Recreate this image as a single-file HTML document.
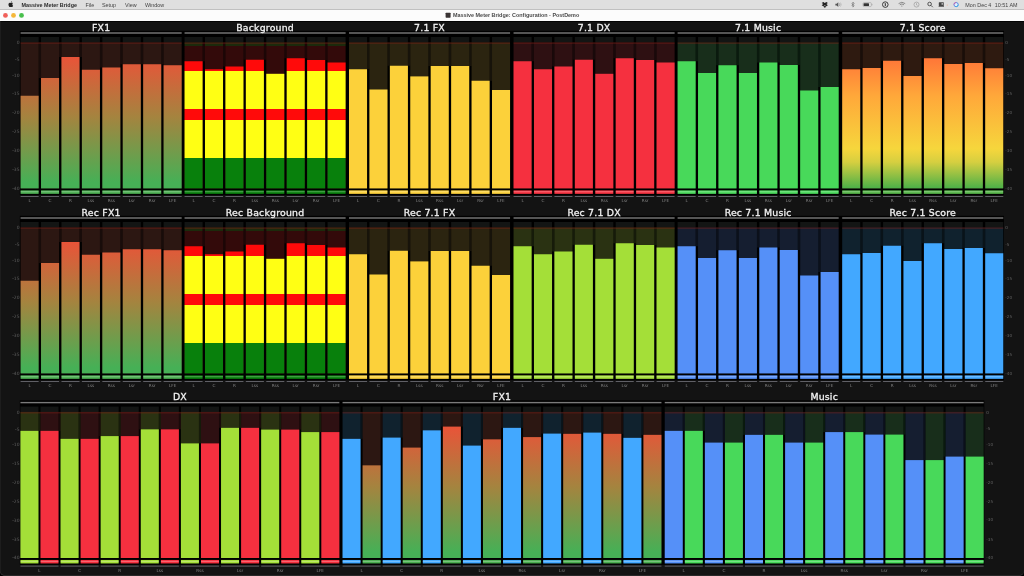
<!DOCTYPE html>
<html><head><meta charset="utf-8"><title>Massive Meter Bridge</title>
<style>
html,body{margin:0;padding:0;background:#000;}
body{width:1024px;height:576px;overflow:hidden;position:relative;font-family:"Liberation Sans",sans-serif;}
#menubar{position:absolute;left:0;top:0;width:1024px;height:9.2px;background:#dfdfdf;border-bottom:0.5px solid #c0c0c0;}
#titlebar{position:absolute;left:0;top:9.7px;width:1024px;height:11.5px;background:#fcfcfc;}
#content{position:absolute;left:0;top:21.2px;width:1024px;height:554.8px;background:#131313;border-radius:0 0 5px 5px;box-shadow:inset 0 -0.8px 0 #303030, inset 0.6px 0 0 #262626, inset 0 0.8px 0 #000;}
svg text{font-family:"DejaVu Sans","Liberation Sans",sans-serif;}
.t{font-size:9.35px;letter-spacing:0.2px;fill:#f2f2f2;stroke:#f2f2f2;stroke-width:0.3px;}
.c{font-size:4.2px;fill:#858585;}
.s{font-size:4.5px;fill:#5e5e5e;}
.sr{font-size:4.1px;fill:#626262;}
svg text.m{font-family:"Liberation Sans",sans-serif;font-size:5.4px;fill:#444;}
svg text.mb{font-family:"Liberation Sans",sans-serif;font-size:5.4px;font-weight:bold;fill:#2a2a2a;}
svg text.tb{font-family:"Liberation Sans",sans-serif;font-size:5.43px;font-weight:bold;fill:#4a4a4a;}
</style></head>
<body>
<div id="menubar"></div><div id="titlebar"></div><div id="content"></div>
<svg width="1024" height="576" viewBox="0 0 1024 576" style="position:absolute;left:0;top:0"><defs><linearGradient id="gFx1_0" gradientUnits="userSpaceOnUse" x1="0" y1="52.5" x2="0" y2="182.4"><stop offset="0" stop-color="#ee5038"/><stop offset="0.5" stop-color="#a4843f"/><stop offset="1" stop-color="#46b056"/></linearGradient><linearGradient id="gScore_0" gradientUnits="userSpaceOnUse" x1="0" y1="56.5" x2="0" y2="188.4"><stop offset="0" stop-color="#ff7438"/><stop offset="0.30" stop-color="#ffa83a"/><stop offset="0.70" stop-color="#f6d63c"/><stop offset="0.80" stop-color="#d6cf40"/><stop offset="1" stop-color="#4cb048"/></linearGradient><linearGradient id="gBg_0" gradientUnits="userSpaceOnUse" x1="0" y1="42.5" x2="0" y2="188.4"><stop offset="0.0000" stop-color="#ff0a0a"/><stop offset="0.1936" stop-color="#ff0a0a"/><stop offset="0.1936" stop-color="#ffff14"/><stop offset="0.4541" stop-color="#ffff14"/><stop offset="0.4541" stop-color="#ff0a0a"/><stop offset="0.5326" stop-color="#ff0a0a"/><stop offset="0.5326" stop-color="#ffff14"/><stop offset="0.7930" stop-color="#ffff14"/><stop offset="0.7930" stop-color="#08800c"/><stop offset="1.0000" stop-color="#08800c"/></linearGradient><linearGradient id="gBgDim_0" gradientUnits="userSpaceOnUse" x1="0" y1="42.5" x2="0" y2="188.4"><stop offset="0.0000" stop-color="#1c2a0c"/><stop offset="0.0240" stop-color="#1c2a0c"/><stop offset="0.0240" stop-color="#330a0a"/><stop offset="1.0000" stop-color="#330a0a"/></linearGradient><linearGradient id="gFx1_1" gradientUnits="userSpaceOnUse" x1="0" y1="237.5" x2="0" y2="367.4"><stop offset="0" stop-color="#ee5038"/><stop offset="0.5" stop-color="#a4843f"/><stop offset="1" stop-color="#46b056"/></linearGradient><linearGradient id="gScore_1" gradientUnits="userSpaceOnUse" x1="0" y1="241.5" x2="0" y2="373.4"><stop offset="0" stop-color="#ff7438"/><stop offset="0.30" stop-color="#ffa83a"/><stop offset="0.70" stop-color="#f6d63c"/><stop offset="0.80" stop-color="#d6cf40"/><stop offset="1" stop-color="#4cb048"/></linearGradient><linearGradient id="gBg_1" gradientUnits="userSpaceOnUse" x1="0" y1="227.5" x2="0" y2="373.4"><stop offset="0.0000" stop-color="#ff0a0a"/><stop offset="0.1936" stop-color="#ff0a0a"/><stop offset="0.1936" stop-color="#ffff14"/><stop offset="0.4541" stop-color="#ffff14"/><stop offset="0.4541" stop-color="#ff0a0a"/><stop offset="0.5326" stop-color="#ff0a0a"/><stop offset="0.5326" stop-color="#ffff14"/><stop offset="0.7930" stop-color="#ffff14"/><stop offset="0.7930" stop-color="#08800c"/><stop offset="1.0000" stop-color="#08800c"/></linearGradient><linearGradient id="gBgDim_1" gradientUnits="userSpaceOnUse" x1="0" y1="227.5" x2="0" y2="373.4"><stop offset="0.0000" stop-color="#1c2a0c"/><stop offset="0.0240" stop-color="#1c2a0c"/><stop offset="0.0240" stop-color="#330a0a"/><stop offset="1.0000" stop-color="#330a0a"/></linearGradient><linearGradient id="gFx1_2" gradientUnits="userSpaceOnUse" x1="0" y1="422.1" x2="0" y2="552.0"><stop offset="0" stop-color="#ee5038"/><stop offset="0.5" stop-color="#a4843f"/><stop offset="1" stop-color="#46b056"/></linearGradient><linearGradient id="gScore_2" gradientUnits="userSpaceOnUse" x1="0" y1="426.1" x2="0" y2="558.0"><stop offset="0" stop-color="#ff7438"/><stop offset="0.30" stop-color="#ffa83a"/><stop offset="0.70" stop-color="#f6d63c"/><stop offset="0.80" stop-color="#d6cf40"/><stop offset="1" stop-color="#4cb048"/></linearGradient><linearGradient id="gBg_2" gradientUnits="userSpaceOnUse" x1="0" y1="412.1" x2="0" y2="558.0"><stop offset="0.0000" stop-color="#ff0a0a"/><stop offset="0.1936" stop-color="#ff0a0a"/><stop offset="0.1936" stop-color="#ffff14"/><stop offset="0.4541" stop-color="#ffff14"/><stop offset="0.4541" stop-color="#ff0a0a"/><stop offset="0.5326" stop-color="#ff0a0a"/><stop offset="0.5326" stop-color="#ffff14"/><stop offset="0.7930" stop-color="#ffff14"/><stop offset="0.7930" stop-color="#08800c"/><stop offset="1.0000" stop-color="#08800c"/></linearGradient><linearGradient id="gBgDim_2" gradientUnits="userSpaceOnUse" x1="0" y1="412.1" x2="0" y2="558.0"><stop offset="0.0000" stop-color="#1c2a0c"/><stop offset="0.0240" stop-color="#1c2a0c"/><stop offset="0.0240" stop-color="#330a0a"/><stop offset="1.0000" stop-color="#330a0a"/></linearGradient></defs><rect x="19.80" y="30.80" width="984.20" height="164.40" fill="#000"/>
<rect x="20.60" y="32.30" width="161.06" height="1.40" fill="#7a7a7a"/>
<rect x="38.45" y="42.50" width="2.78" height="35.50" fill="#180c0a"/>
<rect x="58.88" y="42.50" width="2.78" height="14.50" fill="#180c0a"/>
<rect x="79.31" y="42.50" width="2.78" height="14.50" fill="#180c0a"/>
<rect x="99.74" y="42.50" width="2.78" height="25.00" fill="#180c0a"/>
<rect x="120.17" y="42.50" width="2.78" height="21.75" fill="#180c0a"/>
<rect x="140.60" y="42.50" width="2.78" height="21.75" fill="#180c0a"/>
<rect x="161.03" y="42.50" width="2.78" height="21.75" fill="#180c0a"/>
<rect x="20.60" y="37.00" width="18.05" height="5.50" fill="#131514"/>
<rect x="20.60" y="42.50" width="18.05" height="145.90" fill="#2c1712"/>
<rect x="20.60" y="95.75" width="18.05" height="92.65" fill="url(#gFx1_0)"/>
<rect x="20.60" y="190.35" width="18.05" height="3.50" fill="#4aae50"/>
<rect x="20.60" y="191.30" width="18.05" height="0.90" fill="#fff" opacity="0.32"/>
<rect x="20.60" y="196.00" width="18.05" height="1.00" fill="#606066"/>
<rect x="41.03" y="37.00" width="18.05" height="5.50" fill="#131514"/>
<rect x="41.03" y="42.50" width="18.05" height="145.90" fill="#2c1712"/>
<rect x="41.03" y="78.00" width="18.05" height="110.40" fill="url(#gFx1_0)"/>
<rect x="41.03" y="190.35" width="18.05" height="3.50" fill="#4aae50"/>
<rect x="41.03" y="191.30" width="18.05" height="0.90" fill="#fff" opacity="0.32"/>
<rect x="41.03" y="196.00" width="18.05" height="1.00" fill="#606066"/>
<rect x="61.46" y="37.00" width="18.05" height="5.50" fill="#131514"/>
<rect x="61.46" y="42.50" width="18.05" height="145.90" fill="#2c1712"/>
<rect x="61.46" y="57.00" width="18.05" height="131.40" fill="url(#gFx1_0)"/>
<rect x="61.46" y="190.35" width="18.05" height="3.50" fill="#4aae50"/>
<rect x="61.46" y="191.30" width="18.05" height="0.90" fill="#fff" opacity="0.32"/>
<rect x="61.46" y="196.00" width="18.05" height="1.00" fill="#606066"/>
<rect x="81.89" y="37.00" width="18.05" height="5.50" fill="#131514"/>
<rect x="81.89" y="42.50" width="18.05" height="145.90" fill="#2c1712"/>
<rect x="81.89" y="69.75" width="18.05" height="118.65" fill="url(#gFx1_0)"/>
<rect x="81.89" y="190.35" width="18.05" height="3.50" fill="#4aae50"/>
<rect x="81.89" y="191.30" width="18.05" height="0.90" fill="#fff" opacity="0.32"/>
<rect x="81.89" y="196.00" width="18.05" height="1.00" fill="#606066"/>
<rect x="102.32" y="37.00" width="18.05" height="5.50" fill="#131514"/>
<rect x="102.32" y="42.50" width="18.05" height="145.90" fill="#2c1712"/>
<rect x="102.32" y="67.50" width="18.05" height="120.90" fill="url(#gFx1_0)"/>
<rect x="102.32" y="190.35" width="18.05" height="3.50" fill="#4aae50"/>
<rect x="102.32" y="191.30" width="18.05" height="0.90" fill="#fff" opacity="0.32"/>
<rect x="102.32" y="196.00" width="18.05" height="1.00" fill="#606066"/>
<rect x="122.75" y="37.00" width="18.05" height="5.50" fill="#131514"/>
<rect x="122.75" y="42.50" width="18.05" height="145.90" fill="#2c1712"/>
<rect x="122.75" y="64.25" width="18.05" height="124.15" fill="url(#gFx1_0)"/>
<rect x="122.75" y="190.35" width="18.05" height="3.50" fill="#4aae50"/>
<rect x="122.75" y="191.30" width="18.05" height="0.90" fill="#fff" opacity="0.32"/>
<rect x="122.75" y="196.00" width="18.05" height="1.00" fill="#606066"/>
<rect x="143.18" y="37.00" width="18.05" height="5.50" fill="#131514"/>
<rect x="143.18" y="42.50" width="18.05" height="145.90" fill="#2c1712"/>
<rect x="143.18" y="64.25" width="18.05" height="124.15" fill="url(#gFx1_0)"/>
<rect x="143.18" y="190.35" width="18.05" height="3.50" fill="#4aae50"/>
<rect x="143.18" y="191.30" width="18.05" height="0.90" fill="#fff" opacity="0.32"/>
<rect x="143.18" y="196.00" width="18.05" height="1.00" fill="#606066"/>
<rect x="163.61" y="37.00" width="18.05" height="5.50" fill="#131514"/>
<rect x="163.61" y="42.50" width="18.05" height="145.90" fill="#2c1712"/>
<rect x="163.61" y="65.25" width="18.05" height="123.15" fill="url(#gFx1_0)"/>
<rect x="163.61" y="190.35" width="18.05" height="3.50" fill="#4aae50"/>
<rect x="163.61" y="191.30" width="18.05" height="0.90" fill="#fff" opacity="0.32"/>
<rect x="163.61" y="196.00" width="18.05" height="1.00" fill="#606066"/>
<rect x="20.60" y="42.30" width="161.06" height="1.60" fill="#8a2418" opacity="0.36"/>
<rect x="184.55" y="32.30" width="161.06" height="1.40" fill="#7a7a7a"/>
<rect x="202.40" y="42.50" width="2.78" height="18.75" fill="#1c0606"/>
<rect x="222.83" y="42.50" width="2.78" height="24.00" fill="#1c0606"/>
<rect x="243.26" y="42.50" width="2.78" height="17.25" fill="#1c0606"/>
<rect x="263.69" y="42.50" width="2.78" height="17.25" fill="#1c0606"/>
<rect x="284.12" y="42.50" width="2.78" height="15.75" fill="#1c0606"/>
<rect x="304.55" y="42.50" width="2.78" height="15.75" fill="#1c0606"/>
<rect x="324.98" y="42.50" width="2.78" height="17.50" fill="#1c0606"/>
<rect x="184.55" y="37.00" width="18.05" height="5.50" fill="#131514"/>
<rect x="184.55" y="42.50" width="18.05" height="145.90" fill="url(#gBgDim_0)"/>
<rect x="184.55" y="61.25" width="18.05" height="127.15" fill="url(#gBg_0)"/>
<rect x="184.55" y="190.35" width="18.05" height="3.50" fill="#08800c"/>
<rect x="184.55" y="191.30" width="18.05" height="0.90" fill="#fff" opacity="0.32"/>
<rect x="184.55" y="196.00" width="18.05" height="1.00" fill="#606066"/>
<rect x="204.98" y="37.00" width="18.05" height="5.50" fill="#131514"/>
<rect x="204.98" y="42.50" width="18.05" height="145.90" fill="url(#gBgDim_0)"/>
<rect x="204.98" y="69.25" width="18.05" height="119.15" fill="url(#gBg_0)"/>
<rect x="204.98" y="190.35" width="18.05" height="3.50" fill="#08800c"/>
<rect x="204.98" y="191.30" width="18.05" height="0.90" fill="#fff" opacity="0.32"/>
<rect x="204.98" y="196.00" width="18.05" height="1.00" fill="#606066"/>
<rect x="225.41" y="37.00" width="18.05" height="5.50" fill="#131514"/>
<rect x="225.41" y="42.50" width="18.05" height="145.90" fill="url(#gBgDim_0)"/>
<rect x="225.41" y="66.50" width="18.05" height="121.90" fill="url(#gBg_0)"/>
<rect x="225.41" y="190.35" width="18.05" height="3.50" fill="#08800c"/>
<rect x="225.41" y="191.30" width="18.05" height="0.90" fill="#fff" opacity="0.32"/>
<rect x="225.41" y="196.00" width="18.05" height="1.00" fill="#606066"/>
<rect x="245.84" y="37.00" width="18.05" height="5.50" fill="#131514"/>
<rect x="245.84" y="42.50" width="18.05" height="145.90" fill="url(#gBgDim_0)"/>
<rect x="245.84" y="59.75" width="18.05" height="128.65" fill="url(#gBg_0)"/>
<rect x="245.84" y="190.35" width="18.05" height="3.50" fill="#08800c"/>
<rect x="245.84" y="191.30" width="18.05" height="0.90" fill="#fff" opacity="0.32"/>
<rect x="245.84" y="196.00" width="18.05" height="1.00" fill="#606066"/>
<rect x="266.27" y="37.00" width="18.05" height="5.50" fill="#131514"/>
<rect x="266.27" y="42.50" width="18.05" height="145.90" fill="url(#gBgDim_0)"/>
<rect x="266.27" y="73.80" width="18.05" height="114.60" fill="url(#gBg_0)"/>
<rect x="266.27" y="190.35" width="18.05" height="3.50" fill="#08800c"/>
<rect x="266.27" y="191.30" width="18.05" height="0.90" fill="#fff" opacity="0.32"/>
<rect x="266.27" y="196.00" width="18.05" height="1.00" fill="#606066"/>
<rect x="286.70" y="37.00" width="18.05" height="5.50" fill="#131514"/>
<rect x="286.70" y="42.50" width="18.05" height="145.90" fill="url(#gBgDim_0)"/>
<rect x="286.70" y="58.25" width="18.05" height="130.15" fill="url(#gBg_0)"/>
<rect x="286.70" y="190.35" width="18.05" height="3.50" fill="#08800c"/>
<rect x="286.70" y="191.30" width="18.05" height="0.90" fill="#fff" opacity="0.32"/>
<rect x="286.70" y="196.00" width="18.05" height="1.00" fill="#606066"/>
<rect x="307.13" y="37.00" width="18.05" height="5.50" fill="#131514"/>
<rect x="307.13" y="42.50" width="18.05" height="145.90" fill="url(#gBgDim_0)"/>
<rect x="307.13" y="60.00" width="18.05" height="128.40" fill="url(#gBg_0)"/>
<rect x="307.13" y="190.35" width="18.05" height="3.50" fill="#08800c"/>
<rect x="307.13" y="191.30" width="18.05" height="0.90" fill="#fff" opacity="0.32"/>
<rect x="307.13" y="196.00" width="18.05" height="1.00" fill="#606066"/>
<rect x="327.56" y="37.00" width="18.05" height="5.50" fill="#131514"/>
<rect x="327.56" y="42.50" width="18.05" height="145.90" fill="url(#gBgDim_0)"/>
<rect x="327.56" y="62.50" width="18.05" height="125.90" fill="url(#gBg_0)"/>
<rect x="327.56" y="190.35" width="18.05" height="3.50" fill="#08800c"/>
<rect x="327.56" y="191.30" width="18.05" height="0.90" fill="#fff" opacity="0.32"/>
<rect x="327.56" y="196.00" width="18.05" height="1.00" fill="#606066"/>
<rect x="184.55" y="42.30" width="161.06" height="1.60" fill="#8a2418" opacity="0.36"/>
<rect x="349.00" y="32.30" width="161.06" height="1.40" fill="#7a7a7a"/>
<rect x="366.85" y="42.50" width="2.78" height="26.75" fill="#17130a"/>
<rect x="387.28" y="42.50" width="2.78" height="23.25" fill="#17130a"/>
<rect x="407.71" y="42.50" width="2.78" height="23.25" fill="#17130a"/>
<rect x="428.14" y="42.50" width="2.78" height="23.50" fill="#17130a"/>
<rect x="448.57" y="42.50" width="2.78" height="23.50" fill="#17130a"/>
<rect x="469.00" y="42.50" width="2.78" height="23.50" fill="#17130a"/>
<rect x="489.43" y="42.50" width="2.78" height="38.25" fill="#17130a"/>
<rect x="349.00" y="37.00" width="18.05" height="5.50" fill="#131514"/>
<rect x="349.00" y="42.50" width="18.05" height="145.90" fill="#2b2410"/>
<rect x="349.00" y="69.25" width="18.05" height="119.15" fill="#fcd13a"/>
<rect x="349.00" y="190.35" width="18.05" height="3.50" fill="#fcd13a"/>
<rect x="349.00" y="191.30" width="18.05" height="0.90" fill="#fff" opacity="0.32"/>
<rect x="349.00" y="196.00" width="18.05" height="1.00" fill="#606066"/>
<rect x="369.43" y="37.00" width="18.05" height="5.50" fill="#131514"/>
<rect x="369.43" y="42.50" width="18.05" height="145.90" fill="#2b2410"/>
<rect x="369.43" y="89.50" width="18.05" height="98.90" fill="#fcd13a"/>
<rect x="369.43" y="190.35" width="18.05" height="3.50" fill="#fcd13a"/>
<rect x="369.43" y="191.30" width="18.05" height="0.90" fill="#fff" opacity="0.32"/>
<rect x="369.43" y="196.00" width="18.05" height="1.00" fill="#606066"/>
<rect x="389.86" y="37.00" width="18.05" height="5.50" fill="#131514"/>
<rect x="389.86" y="42.50" width="18.05" height="145.90" fill="#2b2410"/>
<rect x="389.86" y="65.75" width="18.05" height="122.65" fill="#fcd13a"/>
<rect x="389.86" y="190.35" width="18.05" height="3.50" fill="#fcd13a"/>
<rect x="389.86" y="191.30" width="18.05" height="0.90" fill="#fff" opacity="0.32"/>
<rect x="389.86" y="196.00" width="18.05" height="1.00" fill="#606066"/>
<rect x="410.29" y="37.00" width="18.05" height="5.50" fill="#131514"/>
<rect x="410.29" y="42.50" width="18.05" height="145.90" fill="#2b2410"/>
<rect x="410.29" y="76.40" width="18.05" height="112.00" fill="#fcd13a"/>
<rect x="410.29" y="190.35" width="18.05" height="3.50" fill="#fcd13a"/>
<rect x="410.29" y="191.30" width="18.05" height="0.90" fill="#fff" opacity="0.32"/>
<rect x="410.29" y="196.00" width="18.05" height="1.00" fill="#606066"/>
<rect x="430.72" y="37.00" width="18.05" height="5.50" fill="#131514"/>
<rect x="430.72" y="42.50" width="18.05" height="145.90" fill="#2b2410"/>
<rect x="430.72" y="66.00" width="18.05" height="122.40" fill="#fcd13a"/>
<rect x="430.72" y="190.35" width="18.05" height="3.50" fill="#fcd13a"/>
<rect x="430.72" y="191.30" width="18.05" height="0.90" fill="#fff" opacity="0.32"/>
<rect x="430.72" y="196.00" width="18.05" height="1.00" fill="#606066"/>
<rect x="451.15" y="37.00" width="18.05" height="5.50" fill="#131514"/>
<rect x="451.15" y="42.50" width="18.05" height="145.90" fill="#2b2410"/>
<rect x="451.15" y="66.00" width="18.05" height="122.40" fill="#fcd13a"/>
<rect x="451.15" y="190.35" width="18.05" height="3.50" fill="#fcd13a"/>
<rect x="451.15" y="191.30" width="18.05" height="0.90" fill="#fff" opacity="0.32"/>
<rect x="451.15" y="196.00" width="18.05" height="1.00" fill="#606066"/>
<rect x="471.58" y="37.00" width="18.05" height="5.50" fill="#131514"/>
<rect x="471.58" y="42.50" width="18.05" height="145.90" fill="#2b2410"/>
<rect x="471.58" y="80.75" width="18.05" height="107.65" fill="#fcd13a"/>
<rect x="471.58" y="190.35" width="18.05" height="3.50" fill="#fcd13a"/>
<rect x="471.58" y="191.30" width="18.05" height="0.90" fill="#fff" opacity="0.32"/>
<rect x="471.58" y="196.00" width="18.05" height="1.00" fill="#606066"/>
<rect x="492.01" y="37.00" width="18.05" height="5.50" fill="#131514"/>
<rect x="492.01" y="42.50" width="18.05" height="145.90" fill="#2b2410"/>
<rect x="492.01" y="90.00" width="18.05" height="98.40" fill="#fcd13a"/>
<rect x="492.01" y="190.35" width="18.05" height="3.50" fill="#fcd13a"/>
<rect x="492.01" y="191.30" width="18.05" height="0.90" fill="#fff" opacity="0.32"/>
<rect x="492.01" y="196.00" width="18.05" height="1.00" fill="#606066"/>
<rect x="349.00" y="42.30" width="161.06" height="1.60" fill="#8a2418" opacity="0.36"/>
<rect x="513.55" y="32.30" width="161.06" height="1.40" fill="#7a7a7a"/>
<rect x="531.40" y="42.50" width="2.78" height="18.75" fill="#19090a"/>
<rect x="551.83" y="42.50" width="2.78" height="24.00" fill="#19090a"/>
<rect x="572.26" y="42.50" width="2.78" height="17.25" fill="#19090a"/>
<rect x="592.69" y="42.50" width="2.78" height="17.25" fill="#19090a"/>
<rect x="613.12" y="42.50" width="2.78" height="15.75" fill="#19090a"/>
<rect x="633.55" y="42.50" width="2.78" height="15.75" fill="#19090a"/>
<rect x="653.98" y="42.50" width="2.78" height="17.50" fill="#19090a"/>
<rect x="513.55" y="37.00" width="18.05" height="5.50" fill="#131514"/>
<rect x="513.55" y="42.50" width="18.05" height="145.90" fill="#2e1012"/>
<rect x="513.55" y="61.25" width="18.05" height="127.15" fill="#f5303f"/>
<rect x="513.55" y="190.35" width="18.05" height="3.50" fill="#f5303f"/>
<rect x="513.55" y="191.30" width="18.05" height="0.90" fill="#fff" opacity="0.32"/>
<rect x="513.55" y="196.00" width="18.05" height="1.00" fill="#606066"/>
<rect x="533.98" y="37.00" width="18.05" height="5.50" fill="#131514"/>
<rect x="533.98" y="42.50" width="18.05" height="145.90" fill="#2e1012"/>
<rect x="533.98" y="69.25" width="18.05" height="119.15" fill="#f5303f"/>
<rect x="533.98" y="190.35" width="18.05" height="3.50" fill="#f5303f"/>
<rect x="533.98" y="191.30" width="18.05" height="0.90" fill="#fff" opacity="0.32"/>
<rect x="533.98" y="196.00" width="18.05" height="1.00" fill="#606066"/>
<rect x="554.41" y="37.00" width="18.05" height="5.50" fill="#131514"/>
<rect x="554.41" y="42.50" width="18.05" height="145.90" fill="#2e1012"/>
<rect x="554.41" y="66.50" width="18.05" height="121.90" fill="#f5303f"/>
<rect x="554.41" y="190.35" width="18.05" height="3.50" fill="#f5303f"/>
<rect x="554.41" y="191.30" width="18.05" height="0.90" fill="#fff" opacity="0.32"/>
<rect x="554.41" y="196.00" width="18.05" height="1.00" fill="#606066"/>
<rect x="574.84" y="37.00" width="18.05" height="5.50" fill="#131514"/>
<rect x="574.84" y="42.50" width="18.05" height="145.90" fill="#2e1012"/>
<rect x="574.84" y="59.75" width="18.05" height="128.65" fill="#f5303f"/>
<rect x="574.84" y="190.35" width="18.05" height="3.50" fill="#f5303f"/>
<rect x="574.84" y="191.30" width="18.05" height="0.90" fill="#fff" opacity="0.32"/>
<rect x="574.84" y="196.00" width="18.05" height="1.00" fill="#606066"/>
<rect x="595.27" y="37.00" width="18.05" height="5.50" fill="#131514"/>
<rect x="595.27" y="42.50" width="18.05" height="145.90" fill="#2e1012"/>
<rect x="595.27" y="73.80" width="18.05" height="114.60" fill="#f5303f"/>
<rect x="595.27" y="190.35" width="18.05" height="3.50" fill="#f5303f"/>
<rect x="595.27" y="191.30" width="18.05" height="0.90" fill="#fff" opacity="0.32"/>
<rect x="595.27" y="196.00" width="18.05" height="1.00" fill="#606066"/>
<rect x="615.70" y="37.00" width="18.05" height="5.50" fill="#131514"/>
<rect x="615.70" y="42.50" width="18.05" height="145.90" fill="#2e1012"/>
<rect x="615.70" y="58.25" width="18.05" height="130.15" fill="#f5303f"/>
<rect x="615.70" y="190.35" width="18.05" height="3.50" fill="#f5303f"/>
<rect x="615.70" y="191.30" width="18.05" height="0.90" fill="#fff" opacity="0.32"/>
<rect x="615.70" y="196.00" width="18.05" height="1.00" fill="#606066"/>
<rect x="636.13" y="37.00" width="18.05" height="5.50" fill="#131514"/>
<rect x="636.13" y="42.50" width="18.05" height="145.90" fill="#2e1012"/>
<rect x="636.13" y="60.00" width="18.05" height="128.40" fill="#f5303f"/>
<rect x="636.13" y="190.35" width="18.05" height="3.50" fill="#f5303f"/>
<rect x="636.13" y="191.30" width="18.05" height="0.90" fill="#fff" opacity="0.32"/>
<rect x="636.13" y="196.00" width="18.05" height="1.00" fill="#606066"/>
<rect x="656.56" y="37.00" width="18.05" height="5.50" fill="#131514"/>
<rect x="656.56" y="42.50" width="18.05" height="145.90" fill="#2e1012"/>
<rect x="656.56" y="62.50" width="18.05" height="125.90" fill="#f5303f"/>
<rect x="656.56" y="190.35" width="18.05" height="3.50" fill="#f5303f"/>
<rect x="656.56" y="191.30" width="18.05" height="0.90" fill="#fff" opacity="0.32"/>
<rect x="656.56" y="196.00" width="18.05" height="1.00" fill="#606066"/>
<rect x="513.55" y="42.30" width="161.06" height="1.60" fill="#8a2418" opacity="0.36"/>
<rect x="677.60" y="32.30" width="161.06" height="1.40" fill="#7a7a7a"/>
<rect x="695.45" y="42.50" width="2.78" height="18.75" fill="#0a1a0e"/>
<rect x="715.88" y="42.50" width="2.78" height="22.75" fill="#0a1a0e"/>
<rect x="736.31" y="42.50" width="2.78" height="22.75" fill="#0a1a0e"/>
<rect x="756.74" y="42.50" width="2.78" height="20.00" fill="#0a1a0e"/>
<rect x="777.17" y="42.50" width="2.78" height="20.00" fill="#0a1a0e"/>
<rect x="797.60" y="42.50" width="2.78" height="22.50" fill="#0a1a0e"/>
<rect x="818.03" y="42.50" width="2.78" height="44.50" fill="#0a1a0e"/>
<rect x="677.60" y="37.00" width="18.05" height="5.50" fill="#131514"/>
<rect x="677.60" y="42.50" width="18.05" height="145.90" fill="#182e1b"/>
<rect x="677.60" y="61.25" width="18.05" height="127.15" fill="#48d95a"/>
<rect x="677.60" y="190.35" width="18.05" height="3.50" fill="#48d95a"/>
<rect x="677.60" y="191.30" width="18.05" height="0.90" fill="#fff" opacity="0.32"/>
<rect x="677.60" y="196.00" width="18.05" height="1.00" fill="#606066"/>
<rect x="698.03" y="37.00" width="18.05" height="5.50" fill="#131514"/>
<rect x="698.03" y="42.50" width="18.05" height="145.90" fill="#182e1b"/>
<rect x="698.03" y="73.00" width="18.05" height="115.40" fill="#48d95a"/>
<rect x="698.03" y="190.35" width="18.05" height="3.50" fill="#48d95a"/>
<rect x="698.03" y="191.30" width="18.05" height="0.90" fill="#fff" opacity="0.32"/>
<rect x="698.03" y="196.00" width="18.05" height="1.00" fill="#606066"/>
<rect x="718.46" y="37.00" width="18.05" height="5.50" fill="#131514"/>
<rect x="718.46" y="42.50" width="18.05" height="145.90" fill="#182e1b"/>
<rect x="718.46" y="65.25" width="18.05" height="123.15" fill="#48d95a"/>
<rect x="718.46" y="190.35" width="18.05" height="3.50" fill="#48d95a"/>
<rect x="718.46" y="191.30" width="18.05" height="0.90" fill="#fff" opacity="0.32"/>
<rect x="718.46" y="196.00" width="18.05" height="1.00" fill="#606066"/>
<rect x="738.89" y="37.00" width="18.05" height="5.50" fill="#131514"/>
<rect x="738.89" y="42.50" width="18.05" height="145.90" fill="#182e1b"/>
<rect x="738.89" y="73.00" width="18.05" height="115.40" fill="#48d95a"/>
<rect x="738.89" y="190.35" width="18.05" height="3.50" fill="#48d95a"/>
<rect x="738.89" y="191.30" width="18.05" height="0.90" fill="#fff" opacity="0.32"/>
<rect x="738.89" y="196.00" width="18.05" height="1.00" fill="#606066"/>
<rect x="759.32" y="37.00" width="18.05" height="5.50" fill="#131514"/>
<rect x="759.32" y="42.50" width="18.05" height="145.90" fill="#182e1b"/>
<rect x="759.32" y="62.50" width="18.05" height="125.90" fill="#48d95a"/>
<rect x="759.32" y="190.35" width="18.05" height="3.50" fill="#48d95a"/>
<rect x="759.32" y="191.30" width="18.05" height="0.90" fill="#fff" opacity="0.32"/>
<rect x="759.32" y="196.00" width="18.05" height="1.00" fill="#606066"/>
<rect x="779.75" y="37.00" width="18.05" height="5.50" fill="#131514"/>
<rect x="779.75" y="42.50" width="18.05" height="145.90" fill="#182e1b"/>
<rect x="779.75" y="65.00" width="18.05" height="123.40" fill="#48d95a"/>
<rect x="779.75" y="190.35" width="18.05" height="3.50" fill="#48d95a"/>
<rect x="779.75" y="191.30" width="18.05" height="0.90" fill="#fff" opacity="0.32"/>
<rect x="779.75" y="196.00" width="18.05" height="1.00" fill="#606066"/>
<rect x="800.18" y="37.00" width="18.05" height="5.50" fill="#131514"/>
<rect x="800.18" y="42.50" width="18.05" height="145.90" fill="#182e1b"/>
<rect x="800.18" y="90.50" width="18.05" height="97.90" fill="#48d95a"/>
<rect x="800.18" y="190.35" width="18.05" height="3.50" fill="#48d95a"/>
<rect x="800.18" y="191.30" width="18.05" height="0.90" fill="#fff" opacity="0.32"/>
<rect x="800.18" y="196.00" width="18.05" height="1.00" fill="#606066"/>
<rect x="820.61" y="37.00" width="18.05" height="5.50" fill="#131514"/>
<rect x="820.61" y="42.50" width="18.05" height="145.90" fill="#182e1b"/>
<rect x="820.61" y="87.00" width="18.05" height="101.40" fill="#48d95a"/>
<rect x="820.61" y="190.35" width="18.05" height="3.50" fill="#48d95a"/>
<rect x="820.61" y="191.30" width="18.05" height="0.90" fill="#fff" opacity="0.32"/>
<rect x="820.61" y="196.00" width="18.05" height="1.00" fill="#606066"/>
<rect x="677.60" y="42.30" width="161.06" height="1.60" fill="#8a2418" opacity="0.36"/>
<rect x="842.20" y="32.30" width="161.06" height="1.40" fill="#7a7a7a"/>
<rect x="860.05" y="42.50" width="2.78" height="25.50" fill="#190e09"/>
<rect x="880.48" y="42.50" width="2.78" height="18.25" fill="#190e09"/>
<rect x="900.91" y="42.50" width="2.78" height="18.25" fill="#190e09"/>
<rect x="921.34" y="42.50" width="2.78" height="15.75" fill="#190e09"/>
<rect x="941.77" y="42.50" width="2.78" height="15.75" fill="#190e09"/>
<rect x="962.20" y="42.50" width="2.78" height="20.50" fill="#190e09"/>
<rect x="982.63" y="42.50" width="2.78" height="20.50" fill="#190e09"/>
<rect x="842.20" y="37.00" width="18.05" height="5.50" fill="#131514"/>
<rect x="842.20" y="42.50" width="18.05" height="145.90" fill="#2e1a10"/>
<rect x="842.20" y="69.25" width="18.05" height="119.15" fill="url(#gScore_0)"/>
<rect x="842.20" y="190.35" width="18.05" height="3.50" fill="#55b548"/>
<rect x="842.20" y="191.30" width="18.05" height="0.90" fill="#fff" opacity="0.32"/>
<rect x="842.20" y="196.00" width="18.05" height="1.00" fill="#606066"/>
<rect x="862.63" y="37.00" width="18.05" height="5.50" fill="#131514"/>
<rect x="862.63" y="42.50" width="18.05" height="145.90" fill="#2e1a10"/>
<rect x="862.63" y="68.00" width="18.05" height="120.40" fill="url(#gScore_0)"/>
<rect x="862.63" y="190.35" width="18.05" height="3.50" fill="#55b548"/>
<rect x="862.63" y="191.30" width="18.05" height="0.90" fill="#fff" opacity="0.32"/>
<rect x="862.63" y="196.00" width="18.05" height="1.00" fill="#606066"/>
<rect x="883.06" y="37.00" width="18.05" height="5.50" fill="#131514"/>
<rect x="883.06" y="42.50" width="18.05" height="145.90" fill="#2e1a10"/>
<rect x="883.06" y="60.75" width="18.05" height="127.65" fill="url(#gScore_0)"/>
<rect x="883.06" y="190.35" width="18.05" height="3.50" fill="#55b548"/>
<rect x="883.06" y="191.30" width="18.05" height="0.90" fill="#fff" opacity="0.32"/>
<rect x="883.06" y="196.00" width="18.05" height="1.00" fill="#606066"/>
<rect x="903.49" y="37.00" width="18.05" height="5.50" fill="#131514"/>
<rect x="903.49" y="42.50" width="18.05" height="145.90" fill="#2e1a10"/>
<rect x="903.49" y="76.00" width="18.05" height="112.40" fill="url(#gScore_0)"/>
<rect x="903.49" y="190.35" width="18.05" height="3.50" fill="#55b548"/>
<rect x="903.49" y="191.30" width="18.05" height="0.90" fill="#fff" opacity="0.32"/>
<rect x="903.49" y="196.00" width="18.05" height="1.00" fill="#606066"/>
<rect x="923.92" y="37.00" width="18.05" height="5.50" fill="#131514"/>
<rect x="923.92" y="42.50" width="18.05" height="145.90" fill="#2e1a10"/>
<rect x="923.92" y="58.25" width="18.05" height="130.15" fill="url(#gScore_0)"/>
<rect x="923.92" y="190.35" width="18.05" height="3.50" fill="#55b548"/>
<rect x="923.92" y="191.30" width="18.05" height="0.90" fill="#fff" opacity="0.32"/>
<rect x="923.92" y="196.00" width="18.05" height="1.00" fill="#606066"/>
<rect x="944.35" y="37.00" width="18.05" height="5.50" fill="#131514"/>
<rect x="944.35" y="42.50" width="18.05" height="145.90" fill="#2e1a10"/>
<rect x="944.35" y="64.00" width="18.05" height="124.40" fill="url(#gScore_0)"/>
<rect x="944.35" y="190.35" width="18.05" height="3.50" fill="#55b548"/>
<rect x="944.35" y="191.30" width="18.05" height="0.90" fill="#fff" opacity="0.32"/>
<rect x="944.35" y="196.00" width="18.05" height="1.00" fill="#606066"/>
<rect x="964.78" y="37.00" width="18.05" height="5.50" fill="#131514"/>
<rect x="964.78" y="42.50" width="18.05" height="145.90" fill="#2e1a10"/>
<rect x="964.78" y="63.00" width="18.05" height="125.40" fill="url(#gScore_0)"/>
<rect x="964.78" y="190.35" width="18.05" height="3.50" fill="#55b548"/>
<rect x="964.78" y="191.30" width="18.05" height="0.90" fill="#fff" opacity="0.32"/>
<rect x="964.78" y="196.00" width="18.05" height="1.00" fill="#606066"/>
<rect x="985.21" y="37.00" width="18.05" height="5.50" fill="#131514"/>
<rect x="985.21" y="42.50" width="18.05" height="145.90" fill="#2e1a10"/>
<rect x="985.21" y="68.25" width="18.05" height="120.15" fill="url(#gScore_0)"/>
<rect x="985.21" y="190.35" width="18.05" height="3.50" fill="#55b548"/>
<rect x="985.21" y="191.30" width="18.05" height="0.90" fill="#fff" opacity="0.32"/>
<rect x="985.21" y="196.00" width="18.05" height="1.00" fill="#606066"/>
<rect x="842.20" y="42.30" width="161.06" height="1.60" fill="#8a2418" opacity="0.36"/>
<rect x="19.80" y="215.80" width="984.20" height="164.40" fill="#000"/>
<rect x="20.60" y="217.30" width="161.06" height="1.40" fill="#7a7a7a"/>
<rect x="38.45" y="227.50" width="2.78" height="35.50" fill="#180c0a"/>
<rect x="58.88" y="227.50" width="2.78" height="14.50" fill="#180c0a"/>
<rect x="79.31" y="227.50" width="2.78" height="14.50" fill="#180c0a"/>
<rect x="99.74" y="227.50" width="2.78" height="25.00" fill="#180c0a"/>
<rect x="120.17" y="227.50" width="2.78" height="21.75" fill="#180c0a"/>
<rect x="140.60" y="227.50" width="2.78" height="21.75" fill="#180c0a"/>
<rect x="161.03" y="227.50" width="2.78" height="21.75" fill="#180c0a"/>
<rect x="20.60" y="222.00" width="18.05" height="5.50" fill="#131514"/>
<rect x="20.60" y="227.50" width="18.05" height="145.90" fill="#2c1712"/>
<rect x="20.60" y="280.75" width="18.05" height="92.65" fill="url(#gFx1_1)"/>
<rect x="20.60" y="375.35" width="18.05" height="3.50" fill="#4aae50"/>
<rect x="20.60" y="376.30" width="18.05" height="0.90" fill="#fff" opacity="0.32"/>
<rect x="20.60" y="381.00" width="18.05" height="1.00" fill="#606066"/>
<rect x="41.03" y="222.00" width="18.05" height="5.50" fill="#131514"/>
<rect x="41.03" y="227.50" width="18.05" height="145.90" fill="#2c1712"/>
<rect x="41.03" y="263.00" width="18.05" height="110.40" fill="url(#gFx1_1)"/>
<rect x="41.03" y="375.35" width="18.05" height="3.50" fill="#4aae50"/>
<rect x="41.03" y="376.30" width="18.05" height="0.90" fill="#fff" opacity="0.32"/>
<rect x="41.03" y="381.00" width="18.05" height="1.00" fill="#606066"/>
<rect x="61.46" y="222.00" width="18.05" height="5.50" fill="#131514"/>
<rect x="61.46" y="227.50" width="18.05" height="145.90" fill="#2c1712"/>
<rect x="61.46" y="242.00" width="18.05" height="131.40" fill="url(#gFx1_1)"/>
<rect x="61.46" y="375.35" width="18.05" height="3.50" fill="#4aae50"/>
<rect x="61.46" y="376.30" width="18.05" height="0.90" fill="#fff" opacity="0.32"/>
<rect x="61.46" y="381.00" width="18.05" height="1.00" fill="#606066"/>
<rect x="81.89" y="222.00" width="18.05" height="5.50" fill="#131514"/>
<rect x="81.89" y="227.50" width="18.05" height="145.90" fill="#2c1712"/>
<rect x="81.89" y="254.75" width="18.05" height="118.65" fill="url(#gFx1_1)"/>
<rect x="81.89" y="375.35" width="18.05" height="3.50" fill="#4aae50"/>
<rect x="81.89" y="376.30" width="18.05" height="0.90" fill="#fff" opacity="0.32"/>
<rect x="81.89" y="381.00" width="18.05" height="1.00" fill="#606066"/>
<rect x="102.32" y="222.00" width="18.05" height="5.50" fill="#131514"/>
<rect x="102.32" y="227.50" width="18.05" height="145.90" fill="#2c1712"/>
<rect x="102.32" y="252.50" width="18.05" height="120.90" fill="url(#gFx1_1)"/>
<rect x="102.32" y="375.35" width="18.05" height="3.50" fill="#4aae50"/>
<rect x="102.32" y="376.30" width="18.05" height="0.90" fill="#fff" opacity="0.32"/>
<rect x="102.32" y="381.00" width="18.05" height="1.00" fill="#606066"/>
<rect x="122.75" y="222.00" width="18.05" height="5.50" fill="#131514"/>
<rect x="122.75" y="227.50" width="18.05" height="145.90" fill="#2c1712"/>
<rect x="122.75" y="249.25" width="18.05" height="124.15" fill="url(#gFx1_1)"/>
<rect x="122.75" y="375.35" width="18.05" height="3.50" fill="#4aae50"/>
<rect x="122.75" y="376.30" width="18.05" height="0.90" fill="#fff" opacity="0.32"/>
<rect x="122.75" y="381.00" width="18.05" height="1.00" fill="#606066"/>
<rect x="143.18" y="222.00" width="18.05" height="5.50" fill="#131514"/>
<rect x="143.18" y="227.50" width="18.05" height="145.90" fill="#2c1712"/>
<rect x="143.18" y="249.25" width="18.05" height="124.15" fill="url(#gFx1_1)"/>
<rect x="143.18" y="375.35" width="18.05" height="3.50" fill="#4aae50"/>
<rect x="143.18" y="376.30" width="18.05" height="0.90" fill="#fff" opacity="0.32"/>
<rect x="143.18" y="381.00" width="18.05" height="1.00" fill="#606066"/>
<rect x="163.61" y="222.00" width="18.05" height="5.50" fill="#131514"/>
<rect x="163.61" y="227.50" width="18.05" height="145.90" fill="#2c1712"/>
<rect x="163.61" y="250.25" width="18.05" height="123.15" fill="url(#gFx1_1)"/>
<rect x="163.61" y="375.35" width="18.05" height="3.50" fill="#4aae50"/>
<rect x="163.61" y="376.30" width="18.05" height="0.90" fill="#fff" opacity="0.32"/>
<rect x="163.61" y="381.00" width="18.05" height="1.00" fill="#606066"/>
<rect x="20.60" y="227.30" width="161.06" height="1.60" fill="#8a2418" opacity="0.36"/>
<rect x="184.55" y="217.30" width="161.06" height="1.40" fill="#7a7a7a"/>
<rect x="202.40" y="227.50" width="2.78" height="18.75" fill="#1c0606"/>
<rect x="222.83" y="227.50" width="2.78" height="24.00" fill="#1c0606"/>
<rect x="243.26" y="227.50" width="2.78" height="17.25" fill="#1c0606"/>
<rect x="263.69" y="227.50" width="2.78" height="17.25" fill="#1c0606"/>
<rect x="284.12" y="227.50" width="2.78" height="15.75" fill="#1c0606"/>
<rect x="304.55" y="227.50" width="2.78" height="15.75" fill="#1c0606"/>
<rect x="324.98" y="227.50" width="2.78" height="17.50" fill="#1c0606"/>
<rect x="184.55" y="222.00" width="18.05" height="5.50" fill="#131514"/>
<rect x="184.55" y="227.50" width="18.05" height="145.90" fill="url(#gBgDim_1)"/>
<rect x="184.55" y="246.25" width="18.05" height="127.15" fill="url(#gBg_1)"/>
<rect x="184.55" y="375.35" width="18.05" height="3.50" fill="#08800c"/>
<rect x="184.55" y="376.30" width="18.05" height="0.90" fill="#fff" opacity="0.32"/>
<rect x="184.55" y="381.00" width="18.05" height="1.00" fill="#606066"/>
<rect x="204.98" y="222.00" width="18.05" height="5.50" fill="#131514"/>
<rect x="204.98" y="227.50" width="18.05" height="145.90" fill="url(#gBgDim_1)"/>
<rect x="204.98" y="254.25" width="18.05" height="119.15" fill="url(#gBg_1)"/>
<rect x="204.98" y="375.35" width="18.05" height="3.50" fill="#08800c"/>
<rect x="204.98" y="376.30" width="18.05" height="0.90" fill="#fff" opacity="0.32"/>
<rect x="204.98" y="381.00" width="18.05" height="1.00" fill="#606066"/>
<rect x="225.41" y="222.00" width="18.05" height="5.50" fill="#131514"/>
<rect x="225.41" y="227.50" width="18.05" height="145.90" fill="url(#gBgDim_1)"/>
<rect x="225.41" y="251.50" width="18.05" height="121.90" fill="url(#gBg_1)"/>
<rect x="225.41" y="375.35" width="18.05" height="3.50" fill="#08800c"/>
<rect x="225.41" y="376.30" width="18.05" height="0.90" fill="#fff" opacity="0.32"/>
<rect x="225.41" y="381.00" width="18.05" height="1.00" fill="#606066"/>
<rect x="245.84" y="222.00" width="18.05" height="5.50" fill="#131514"/>
<rect x="245.84" y="227.50" width="18.05" height="145.90" fill="url(#gBgDim_1)"/>
<rect x="245.84" y="244.75" width="18.05" height="128.65" fill="url(#gBg_1)"/>
<rect x="245.84" y="375.35" width="18.05" height="3.50" fill="#08800c"/>
<rect x="245.84" y="376.30" width="18.05" height="0.90" fill="#fff" opacity="0.32"/>
<rect x="245.84" y="381.00" width="18.05" height="1.00" fill="#606066"/>
<rect x="266.27" y="222.00" width="18.05" height="5.50" fill="#131514"/>
<rect x="266.27" y="227.50" width="18.05" height="145.90" fill="url(#gBgDim_1)"/>
<rect x="266.27" y="258.80" width="18.05" height="114.60" fill="url(#gBg_1)"/>
<rect x="266.27" y="375.35" width="18.05" height="3.50" fill="#08800c"/>
<rect x="266.27" y="376.30" width="18.05" height="0.90" fill="#fff" opacity="0.32"/>
<rect x="266.27" y="381.00" width="18.05" height="1.00" fill="#606066"/>
<rect x="286.70" y="222.00" width="18.05" height="5.50" fill="#131514"/>
<rect x="286.70" y="227.50" width="18.05" height="145.90" fill="url(#gBgDim_1)"/>
<rect x="286.70" y="243.25" width="18.05" height="130.15" fill="url(#gBg_1)"/>
<rect x="286.70" y="375.35" width="18.05" height="3.50" fill="#08800c"/>
<rect x="286.70" y="376.30" width="18.05" height="0.90" fill="#fff" opacity="0.32"/>
<rect x="286.70" y="381.00" width="18.05" height="1.00" fill="#606066"/>
<rect x="307.13" y="222.00" width="18.05" height="5.50" fill="#131514"/>
<rect x="307.13" y="227.50" width="18.05" height="145.90" fill="url(#gBgDim_1)"/>
<rect x="307.13" y="245.00" width="18.05" height="128.40" fill="url(#gBg_1)"/>
<rect x="307.13" y="375.35" width="18.05" height="3.50" fill="#08800c"/>
<rect x="307.13" y="376.30" width="18.05" height="0.90" fill="#fff" opacity="0.32"/>
<rect x="307.13" y="381.00" width="18.05" height="1.00" fill="#606066"/>
<rect x="327.56" y="222.00" width="18.05" height="5.50" fill="#131514"/>
<rect x="327.56" y="227.50" width="18.05" height="145.90" fill="url(#gBgDim_1)"/>
<rect x="327.56" y="247.50" width="18.05" height="125.90" fill="url(#gBg_1)"/>
<rect x="327.56" y="375.35" width="18.05" height="3.50" fill="#08800c"/>
<rect x="327.56" y="376.30" width="18.05" height="0.90" fill="#fff" opacity="0.32"/>
<rect x="327.56" y="381.00" width="18.05" height="1.00" fill="#606066"/>
<rect x="184.55" y="227.30" width="161.06" height="1.60" fill="#8a2418" opacity="0.36"/>
<rect x="349.00" y="217.30" width="161.06" height="1.40" fill="#7a7a7a"/>
<rect x="366.85" y="227.50" width="2.78" height="26.75" fill="#17130a"/>
<rect x="387.28" y="227.50" width="2.78" height="23.25" fill="#17130a"/>
<rect x="407.71" y="227.50" width="2.78" height="23.25" fill="#17130a"/>
<rect x="428.14" y="227.50" width="2.78" height="23.50" fill="#17130a"/>
<rect x="448.57" y="227.50" width="2.78" height="23.50" fill="#17130a"/>
<rect x="469.00" y="227.50" width="2.78" height="23.50" fill="#17130a"/>
<rect x="489.43" y="227.50" width="2.78" height="38.25" fill="#17130a"/>
<rect x="349.00" y="222.00" width="18.05" height="5.50" fill="#131514"/>
<rect x="349.00" y="227.50" width="18.05" height="145.90" fill="#2b2410"/>
<rect x="349.00" y="254.25" width="18.05" height="119.15" fill="#fcd13a"/>
<rect x="349.00" y="375.35" width="18.05" height="3.50" fill="#fcd13a"/>
<rect x="349.00" y="376.30" width="18.05" height="0.90" fill="#fff" opacity="0.32"/>
<rect x="349.00" y="381.00" width="18.05" height="1.00" fill="#606066"/>
<rect x="369.43" y="222.00" width="18.05" height="5.50" fill="#131514"/>
<rect x="369.43" y="227.50" width="18.05" height="145.90" fill="#2b2410"/>
<rect x="369.43" y="274.50" width="18.05" height="98.90" fill="#fcd13a"/>
<rect x="369.43" y="375.35" width="18.05" height="3.50" fill="#fcd13a"/>
<rect x="369.43" y="376.30" width="18.05" height="0.90" fill="#fff" opacity="0.32"/>
<rect x="369.43" y="381.00" width="18.05" height="1.00" fill="#606066"/>
<rect x="389.86" y="222.00" width="18.05" height="5.50" fill="#131514"/>
<rect x="389.86" y="227.50" width="18.05" height="145.90" fill="#2b2410"/>
<rect x="389.86" y="250.75" width="18.05" height="122.65" fill="#fcd13a"/>
<rect x="389.86" y="375.35" width="18.05" height="3.50" fill="#fcd13a"/>
<rect x="389.86" y="376.30" width="18.05" height="0.90" fill="#fff" opacity="0.32"/>
<rect x="389.86" y="381.00" width="18.05" height="1.00" fill="#606066"/>
<rect x="410.29" y="222.00" width="18.05" height="5.50" fill="#131514"/>
<rect x="410.29" y="227.50" width="18.05" height="145.90" fill="#2b2410"/>
<rect x="410.29" y="261.40" width="18.05" height="112.00" fill="#fcd13a"/>
<rect x="410.29" y="375.35" width="18.05" height="3.50" fill="#fcd13a"/>
<rect x="410.29" y="376.30" width="18.05" height="0.90" fill="#fff" opacity="0.32"/>
<rect x="410.29" y="381.00" width="18.05" height="1.00" fill="#606066"/>
<rect x="430.72" y="222.00" width="18.05" height="5.50" fill="#131514"/>
<rect x="430.72" y="227.50" width="18.05" height="145.90" fill="#2b2410"/>
<rect x="430.72" y="251.00" width="18.05" height="122.40" fill="#fcd13a"/>
<rect x="430.72" y="375.35" width="18.05" height="3.50" fill="#fcd13a"/>
<rect x="430.72" y="376.30" width="18.05" height="0.90" fill="#fff" opacity="0.32"/>
<rect x="430.72" y="381.00" width="18.05" height="1.00" fill="#606066"/>
<rect x="451.15" y="222.00" width="18.05" height="5.50" fill="#131514"/>
<rect x="451.15" y="227.50" width="18.05" height="145.90" fill="#2b2410"/>
<rect x="451.15" y="251.00" width="18.05" height="122.40" fill="#fcd13a"/>
<rect x="451.15" y="375.35" width="18.05" height="3.50" fill="#fcd13a"/>
<rect x="451.15" y="376.30" width="18.05" height="0.90" fill="#fff" opacity="0.32"/>
<rect x="451.15" y="381.00" width="18.05" height="1.00" fill="#606066"/>
<rect x="471.58" y="222.00" width="18.05" height="5.50" fill="#131514"/>
<rect x="471.58" y="227.50" width="18.05" height="145.90" fill="#2b2410"/>
<rect x="471.58" y="265.75" width="18.05" height="107.65" fill="#fcd13a"/>
<rect x="471.58" y="375.35" width="18.05" height="3.50" fill="#fcd13a"/>
<rect x="471.58" y="376.30" width="18.05" height="0.90" fill="#fff" opacity="0.32"/>
<rect x="471.58" y="381.00" width="18.05" height="1.00" fill="#606066"/>
<rect x="492.01" y="222.00" width="18.05" height="5.50" fill="#131514"/>
<rect x="492.01" y="227.50" width="18.05" height="145.90" fill="#2b2410"/>
<rect x="492.01" y="275.00" width="18.05" height="98.40" fill="#fcd13a"/>
<rect x="492.01" y="375.35" width="18.05" height="3.50" fill="#fcd13a"/>
<rect x="492.01" y="376.30" width="18.05" height="0.90" fill="#fff" opacity="0.32"/>
<rect x="492.01" y="381.00" width="18.05" height="1.00" fill="#606066"/>
<rect x="349.00" y="227.30" width="161.06" height="1.60" fill="#8a2418" opacity="0.36"/>
<rect x="513.55" y="217.30" width="161.06" height="1.40" fill="#7a7a7a"/>
<rect x="531.40" y="227.50" width="2.78" height="18.75" fill="#161b0a"/>
<rect x="551.83" y="227.50" width="2.78" height="24.00" fill="#161b0a"/>
<rect x="572.26" y="227.50" width="2.78" height="17.25" fill="#161b0a"/>
<rect x="592.69" y="227.50" width="2.78" height="17.25" fill="#161b0a"/>
<rect x="613.12" y="227.50" width="2.78" height="15.75" fill="#161b0a"/>
<rect x="633.55" y="227.50" width="2.78" height="15.75" fill="#161b0a"/>
<rect x="653.98" y="227.50" width="2.78" height="17.50" fill="#161b0a"/>
<rect x="513.55" y="222.00" width="18.05" height="5.50" fill="#131514"/>
<rect x="513.55" y="227.50" width="18.05" height="145.90" fill="#2a3212"/>
<rect x="513.55" y="246.25" width="18.05" height="127.15" fill="#a4df38"/>
<rect x="513.55" y="375.35" width="18.05" height="3.50" fill="#a4df38"/>
<rect x="513.55" y="376.30" width="18.05" height="0.90" fill="#fff" opacity="0.32"/>
<rect x="513.55" y="381.00" width="18.05" height="1.00" fill="#606066"/>
<rect x="533.98" y="222.00" width="18.05" height="5.50" fill="#131514"/>
<rect x="533.98" y="227.50" width="18.05" height="145.90" fill="#2a3212"/>
<rect x="533.98" y="254.25" width="18.05" height="119.15" fill="#a4df38"/>
<rect x="533.98" y="375.35" width="18.05" height="3.50" fill="#a4df38"/>
<rect x="533.98" y="376.30" width="18.05" height="0.90" fill="#fff" opacity="0.32"/>
<rect x="533.98" y="381.00" width="18.05" height="1.00" fill="#606066"/>
<rect x="554.41" y="222.00" width="18.05" height="5.50" fill="#131514"/>
<rect x="554.41" y="227.50" width="18.05" height="145.90" fill="#2a3212"/>
<rect x="554.41" y="251.50" width="18.05" height="121.90" fill="#a4df38"/>
<rect x="554.41" y="375.35" width="18.05" height="3.50" fill="#a4df38"/>
<rect x="554.41" y="376.30" width="18.05" height="0.90" fill="#fff" opacity="0.32"/>
<rect x="554.41" y="381.00" width="18.05" height="1.00" fill="#606066"/>
<rect x="574.84" y="222.00" width="18.05" height="5.50" fill="#131514"/>
<rect x="574.84" y="227.50" width="18.05" height="145.90" fill="#2a3212"/>
<rect x="574.84" y="244.75" width="18.05" height="128.65" fill="#a4df38"/>
<rect x="574.84" y="375.35" width="18.05" height="3.50" fill="#a4df38"/>
<rect x="574.84" y="376.30" width="18.05" height="0.90" fill="#fff" opacity="0.32"/>
<rect x="574.84" y="381.00" width="18.05" height="1.00" fill="#606066"/>
<rect x="595.27" y="222.00" width="18.05" height="5.50" fill="#131514"/>
<rect x="595.27" y="227.50" width="18.05" height="145.90" fill="#2a3212"/>
<rect x="595.27" y="258.80" width="18.05" height="114.60" fill="#a4df38"/>
<rect x="595.27" y="375.35" width="18.05" height="3.50" fill="#a4df38"/>
<rect x="595.27" y="376.30" width="18.05" height="0.90" fill="#fff" opacity="0.32"/>
<rect x="595.27" y="381.00" width="18.05" height="1.00" fill="#606066"/>
<rect x="615.70" y="222.00" width="18.05" height="5.50" fill="#131514"/>
<rect x="615.70" y="227.50" width="18.05" height="145.90" fill="#2a3212"/>
<rect x="615.70" y="243.25" width="18.05" height="130.15" fill="#a4df38"/>
<rect x="615.70" y="375.35" width="18.05" height="3.50" fill="#a4df38"/>
<rect x="615.70" y="376.30" width="18.05" height="0.90" fill="#fff" opacity="0.32"/>
<rect x="615.70" y="381.00" width="18.05" height="1.00" fill="#606066"/>
<rect x="636.13" y="222.00" width="18.05" height="5.50" fill="#131514"/>
<rect x="636.13" y="227.50" width="18.05" height="145.90" fill="#2a3212"/>
<rect x="636.13" y="245.00" width="18.05" height="128.40" fill="#a4df38"/>
<rect x="636.13" y="375.35" width="18.05" height="3.50" fill="#a4df38"/>
<rect x="636.13" y="376.30" width="18.05" height="0.90" fill="#fff" opacity="0.32"/>
<rect x="636.13" y="381.00" width="18.05" height="1.00" fill="#606066"/>
<rect x="656.56" y="222.00" width="18.05" height="5.50" fill="#131514"/>
<rect x="656.56" y="227.50" width="18.05" height="145.90" fill="#2a3212"/>
<rect x="656.56" y="247.50" width="18.05" height="125.90" fill="#a4df38"/>
<rect x="656.56" y="375.35" width="18.05" height="3.50" fill="#a4df38"/>
<rect x="656.56" y="376.30" width="18.05" height="0.90" fill="#fff" opacity="0.32"/>
<rect x="656.56" y="381.00" width="18.05" height="1.00" fill="#606066"/>
<rect x="513.55" y="227.30" width="161.06" height="1.60" fill="#8a2418" opacity="0.36"/>
<rect x="677.60" y="217.30" width="161.06" height="1.40" fill="#7a7a7a"/>
<rect x="695.45" y="227.50" width="2.78" height="18.75" fill="#0b101a"/>
<rect x="715.88" y="227.50" width="2.78" height="22.75" fill="#0b101a"/>
<rect x="736.31" y="227.50" width="2.78" height="22.75" fill="#0b101a"/>
<rect x="756.74" y="227.50" width="2.78" height="20.00" fill="#0b101a"/>
<rect x="777.17" y="227.50" width="2.78" height="20.00" fill="#0b101a"/>
<rect x="797.60" y="227.50" width="2.78" height="22.50" fill="#0b101a"/>
<rect x="818.03" y="227.50" width="2.78" height="44.50" fill="#0b101a"/>
<rect x="677.60" y="222.00" width="18.05" height="5.50" fill="#131514"/>
<rect x="677.60" y="227.50" width="18.05" height="145.90" fill="#151e30"/>
<rect x="677.60" y="246.25" width="18.05" height="127.15" fill="#5590f8"/>
<rect x="677.60" y="375.35" width="18.05" height="3.50" fill="#5590f8"/>
<rect x="677.60" y="376.30" width="18.05" height="0.90" fill="#fff" opacity="0.32"/>
<rect x="677.60" y="381.00" width="18.05" height="1.00" fill="#606066"/>
<rect x="698.03" y="222.00" width="18.05" height="5.50" fill="#131514"/>
<rect x="698.03" y="227.50" width="18.05" height="145.90" fill="#151e30"/>
<rect x="698.03" y="258.00" width="18.05" height="115.40" fill="#5590f8"/>
<rect x="698.03" y="375.35" width="18.05" height="3.50" fill="#5590f8"/>
<rect x="698.03" y="376.30" width="18.05" height="0.90" fill="#fff" opacity="0.32"/>
<rect x="698.03" y="381.00" width="18.05" height="1.00" fill="#606066"/>
<rect x="718.46" y="222.00" width="18.05" height="5.50" fill="#131514"/>
<rect x="718.46" y="227.50" width="18.05" height="145.90" fill="#151e30"/>
<rect x="718.46" y="250.25" width="18.05" height="123.15" fill="#5590f8"/>
<rect x="718.46" y="375.35" width="18.05" height="3.50" fill="#5590f8"/>
<rect x="718.46" y="376.30" width="18.05" height="0.90" fill="#fff" opacity="0.32"/>
<rect x="718.46" y="381.00" width="18.05" height="1.00" fill="#606066"/>
<rect x="738.89" y="222.00" width="18.05" height="5.50" fill="#131514"/>
<rect x="738.89" y="227.50" width="18.05" height="145.90" fill="#151e30"/>
<rect x="738.89" y="258.00" width="18.05" height="115.40" fill="#5590f8"/>
<rect x="738.89" y="375.35" width="18.05" height="3.50" fill="#5590f8"/>
<rect x="738.89" y="376.30" width="18.05" height="0.90" fill="#fff" opacity="0.32"/>
<rect x="738.89" y="381.00" width="18.05" height="1.00" fill="#606066"/>
<rect x="759.32" y="222.00" width="18.05" height="5.50" fill="#131514"/>
<rect x="759.32" y="227.50" width="18.05" height="145.90" fill="#151e30"/>
<rect x="759.32" y="247.50" width="18.05" height="125.90" fill="#5590f8"/>
<rect x="759.32" y="375.35" width="18.05" height="3.50" fill="#5590f8"/>
<rect x="759.32" y="376.30" width="18.05" height="0.90" fill="#fff" opacity="0.32"/>
<rect x="759.32" y="381.00" width="18.05" height="1.00" fill="#606066"/>
<rect x="779.75" y="222.00" width="18.05" height="5.50" fill="#131514"/>
<rect x="779.75" y="227.50" width="18.05" height="145.90" fill="#151e30"/>
<rect x="779.75" y="250.00" width="18.05" height="123.40" fill="#5590f8"/>
<rect x="779.75" y="375.35" width="18.05" height="3.50" fill="#5590f8"/>
<rect x="779.75" y="376.30" width="18.05" height="0.90" fill="#fff" opacity="0.32"/>
<rect x="779.75" y="381.00" width="18.05" height="1.00" fill="#606066"/>
<rect x="800.18" y="222.00" width="18.05" height="5.50" fill="#131514"/>
<rect x="800.18" y="227.50" width="18.05" height="145.90" fill="#151e30"/>
<rect x="800.18" y="275.50" width="18.05" height="97.90" fill="#5590f8"/>
<rect x="800.18" y="375.35" width="18.05" height="3.50" fill="#5590f8"/>
<rect x="800.18" y="376.30" width="18.05" height="0.90" fill="#fff" opacity="0.32"/>
<rect x="800.18" y="381.00" width="18.05" height="1.00" fill="#606066"/>
<rect x="820.61" y="222.00" width="18.05" height="5.50" fill="#131514"/>
<rect x="820.61" y="227.50" width="18.05" height="145.90" fill="#151e30"/>
<rect x="820.61" y="272.00" width="18.05" height="101.40" fill="#5590f8"/>
<rect x="820.61" y="375.35" width="18.05" height="3.50" fill="#5590f8"/>
<rect x="820.61" y="376.30" width="18.05" height="0.90" fill="#fff" opacity="0.32"/>
<rect x="820.61" y="381.00" width="18.05" height="1.00" fill="#606066"/>
<rect x="677.60" y="227.30" width="161.06" height="1.60" fill="#8a2418" opacity="0.36"/>
<rect x="842.20" y="217.30" width="161.06" height="1.40" fill="#7a7a7a"/>
<rect x="860.05" y="227.50" width="2.78" height="25.50" fill="#091319"/>
<rect x="880.48" y="227.50" width="2.78" height="18.25" fill="#091319"/>
<rect x="900.91" y="227.50" width="2.78" height="18.25" fill="#091319"/>
<rect x="921.34" y="227.50" width="2.78" height="15.75" fill="#091319"/>
<rect x="941.77" y="227.50" width="2.78" height="15.75" fill="#091319"/>
<rect x="962.20" y="227.50" width="2.78" height="20.50" fill="#091319"/>
<rect x="982.63" y="227.50" width="2.78" height="20.50" fill="#091319"/>
<rect x="842.20" y="222.00" width="18.05" height="5.50" fill="#131514"/>
<rect x="842.20" y="227.50" width="18.05" height="145.90" fill="#10222e"/>
<rect x="842.20" y="254.25" width="18.05" height="119.15" fill="#42a8ff"/>
<rect x="842.20" y="375.35" width="18.05" height="3.50" fill="#42a8ff"/>
<rect x="842.20" y="376.30" width="18.05" height="0.90" fill="#fff" opacity="0.32"/>
<rect x="842.20" y="381.00" width="18.05" height="1.00" fill="#606066"/>
<rect x="862.63" y="222.00" width="18.05" height="5.50" fill="#131514"/>
<rect x="862.63" y="227.50" width="18.05" height="145.90" fill="#10222e"/>
<rect x="862.63" y="253.00" width="18.05" height="120.40" fill="#42a8ff"/>
<rect x="862.63" y="375.35" width="18.05" height="3.50" fill="#42a8ff"/>
<rect x="862.63" y="376.30" width="18.05" height="0.90" fill="#fff" opacity="0.32"/>
<rect x="862.63" y="381.00" width="18.05" height="1.00" fill="#606066"/>
<rect x="883.06" y="222.00" width="18.05" height="5.50" fill="#131514"/>
<rect x="883.06" y="227.50" width="18.05" height="145.90" fill="#10222e"/>
<rect x="883.06" y="245.75" width="18.05" height="127.65" fill="#42a8ff"/>
<rect x="883.06" y="375.35" width="18.05" height="3.50" fill="#42a8ff"/>
<rect x="883.06" y="376.30" width="18.05" height="0.90" fill="#fff" opacity="0.32"/>
<rect x="883.06" y="381.00" width="18.05" height="1.00" fill="#606066"/>
<rect x="903.49" y="222.00" width="18.05" height="5.50" fill="#131514"/>
<rect x="903.49" y="227.50" width="18.05" height="145.90" fill="#10222e"/>
<rect x="903.49" y="261.00" width="18.05" height="112.40" fill="#42a8ff"/>
<rect x="903.49" y="375.35" width="18.05" height="3.50" fill="#42a8ff"/>
<rect x="903.49" y="376.30" width="18.05" height="0.90" fill="#fff" opacity="0.32"/>
<rect x="903.49" y="381.00" width="18.05" height="1.00" fill="#606066"/>
<rect x="923.92" y="222.00" width="18.05" height="5.50" fill="#131514"/>
<rect x="923.92" y="227.50" width="18.05" height="145.90" fill="#10222e"/>
<rect x="923.92" y="243.25" width="18.05" height="130.15" fill="#42a8ff"/>
<rect x="923.92" y="375.35" width="18.05" height="3.50" fill="#42a8ff"/>
<rect x="923.92" y="376.30" width="18.05" height="0.90" fill="#fff" opacity="0.32"/>
<rect x="923.92" y="381.00" width="18.05" height="1.00" fill="#606066"/>
<rect x="944.35" y="222.00" width="18.05" height="5.50" fill="#131514"/>
<rect x="944.35" y="227.50" width="18.05" height="145.90" fill="#10222e"/>
<rect x="944.35" y="249.00" width="18.05" height="124.40" fill="#42a8ff"/>
<rect x="944.35" y="375.35" width="18.05" height="3.50" fill="#42a8ff"/>
<rect x="944.35" y="376.30" width="18.05" height="0.90" fill="#fff" opacity="0.32"/>
<rect x="944.35" y="381.00" width="18.05" height="1.00" fill="#606066"/>
<rect x="964.78" y="222.00" width="18.05" height="5.50" fill="#131514"/>
<rect x="964.78" y="227.50" width="18.05" height="145.90" fill="#10222e"/>
<rect x="964.78" y="248.00" width="18.05" height="125.40" fill="#42a8ff"/>
<rect x="964.78" y="375.35" width="18.05" height="3.50" fill="#42a8ff"/>
<rect x="964.78" y="376.30" width="18.05" height="0.90" fill="#fff" opacity="0.32"/>
<rect x="964.78" y="381.00" width="18.05" height="1.00" fill="#606066"/>
<rect x="985.21" y="222.00" width="18.05" height="5.50" fill="#131514"/>
<rect x="985.21" y="227.50" width="18.05" height="145.90" fill="#10222e"/>
<rect x="985.21" y="253.25" width="18.05" height="120.15" fill="#42a8ff"/>
<rect x="985.21" y="375.35" width="18.05" height="3.50" fill="#42a8ff"/>
<rect x="985.21" y="376.30" width="18.05" height="0.90" fill="#fff" opacity="0.32"/>
<rect x="985.21" y="381.00" width="18.05" height="1.00" fill="#606066"/>
<rect x="842.20" y="227.30" width="161.06" height="1.60" fill="#8a2418" opacity="0.36"/>
<rect x="19.80" y="400.40" width="964.50" height="164.40" fill="#000"/>
<rect x="20.45" y="401.90" width="318.90" height="1.40" fill="#7a7a7a"/>
<rect x="38.25" y="412.10" width="2.46" height="18.75" fill="#161b0a"/>
<rect x="58.31" y="412.10" width="2.46" height="18.75" fill="#19090a"/>
<rect x="78.37" y="412.10" width="2.46" height="26.75" fill="#161b0a"/>
<rect x="98.43" y="412.10" width="2.46" height="24.00" fill="#19090a"/>
<rect x="118.49" y="412.10" width="2.46" height="24.00" fill="#161b0a"/>
<rect x="138.55" y="412.10" width="2.46" height="17.25" fill="#19090a"/>
<rect x="158.61" y="412.10" width="2.46" height="17.25" fill="#161b0a"/>
<rect x="178.67" y="412.10" width="2.46" height="17.25" fill="#19090a"/>
<rect x="198.73" y="412.10" width="2.46" height="31.30" fill="#161b0a"/>
<rect x="218.79" y="412.10" width="2.46" height="15.75" fill="#19090a"/>
<rect x="238.85" y="412.10" width="2.46" height="15.75" fill="#161b0a"/>
<rect x="258.91" y="412.10" width="2.46" height="15.75" fill="#19090a"/>
<rect x="278.97" y="412.10" width="2.46" height="17.50" fill="#161b0a"/>
<rect x="299.03" y="412.10" width="2.46" height="17.50" fill="#19090a"/>
<rect x="319.09" y="412.10" width="2.46" height="20.00" fill="#161b0a"/>
<rect x="20.45" y="406.60" width="18.00" height="5.50" fill="#131514"/>
<rect x="20.45" y="412.10" width="18.00" height="145.90" fill="#2a3212"/>
<rect x="20.45" y="430.85" width="18.00" height="127.15" fill="#a4df38"/>
<rect x="20.45" y="559.95" width="18.00" height="3.50" fill="#a4df38"/>
<rect x="20.45" y="560.90" width="18.00" height="0.90" fill="#fff" opacity="0.32"/>
<rect x="20.45" y="565.60" width="38.06" height="1.00" fill="#606066"/>
<rect x="40.51" y="406.60" width="18.00" height="5.50" fill="#131514"/>
<rect x="40.51" y="412.10" width="18.00" height="145.90" fill="#2e1012"/>
<rect x="40.51" y="430.85" width="18.00" height="127.15" fill="#f5303f"/>
<rect x="40.51" y="559.95" width="18.00" height="3.50" fill="#f5303f"/>
<rect x="40.51" y="560.90" width="18.00" height="0.90" fill="#fff" opacity="0.32"/>
<rect x="60.57" y="406.60" width="18.00" height="5.50" fill="#131514"/>
<rect x="60.57" y="412.10" width="18.00" height="145.90" fill="#2a3212"/>
<rect x="60.57" y="438.85" width="18.00" height="119.15" fill="#a4df38"/>
<rect x="60.57" y="559.95" width="18.00" height="3.50" fill="#a4df38"/>
<rect x="60.57" y="560.90" width="18.00" height="0.90" fill="#fff" opacity="0.32"/>
<rect x="60.57" y="565.60" width="38.06" height="1.00" fill="#606066"/>
<rect x="80.63" y="406.60" width="18.00" height="5.50" fill="#131514"/>
<rect x="80.63" y="412.10" width="18.00" height="145.90" fill="#2e1012"/>
<rect x="80.63" y="438.85" width="18.00" height="119.15" fill="#f5303f"/>
<rect x="80.63" y="559.95" width="18.00" height="3.50" fill="#f5303f"/>
<rect x="80.63" y="560.90" width="18.00" height="0.90" fill="#fff" opacity="0.32"/>
<rect x="100.69" y="406.60" width="18.00" height="5.50" fill="#131514"/>
<rect x="100.69" y="412.10" width="18.00" height="145.90" fill="#2a3212"/>
<rect x="100.69" y="436.10" width="18.00" height="121.90" fill="#a4df38"/>
<rect x="100.69" y="559.95" width="18.00" height="3.50" fill="#a4df38"/>
<rect x="100.69" y="560.90" width="18.00" height="0.90" fill="#fff" opacity="0.32"/>
<rect x="100.69" y="565.60" width="38.06" height="1.00" fill="#606066"/>
<rect x="120.75" y="406.60" width="18.00" height="5.50" fill="#131514"/>
<rect x="120.75" y="412.10" width="18.00" height="145.90" fill="#2e1012"/>
<rect x="120.75" y="436.10" width="18.00" height="121.90" fill="#f5303f"/>
<rect x="120.75" y="559.95" width="18.00" height="3.50" fill="#f5303f"/>
<rect x="120.75" y="560.90" width="18.00" height="0.90" fill="#fff" opacity="0.32"/>
<rect x="140.81" y="406.60" width="18.00" height="5.50" fill="#131514"/>
<rect x="140.81" y="412.10" width="18.00" height="145.90" fill="#2a3212"/>
<rect x="140.81" y="429.35" width="18.00" height="128.65" fill="#a4df38"/>
<rect x="140.81" y="559.95" width="18.00" height="3.50" fill="#a4df38"/>
<rect x="140.81" y="560.90" width="18.00" height="0.90" fill="#fff" opacity="0.32"/>
<rect x="140.81" y="565.60" width="38.06" height="1.00" fill="#606066"/>
<rect x="160.87" y="406.60" width="18.00" height="5.50" fill="#131514"/>
<rect x="160.87" y="412.10" width="18.00" height="145.90" fill="#2e1012"/>
<rect x="160.87" y="429.35" width="18.00" height="128.65" fill="#f5303f"/>
<rect x="160.87" y="559.95" width="18.00" height="3.50" fill="#f5303f"/>
<rect x="160.87" y="560.90" width="18.00" height="0.90" fill="#fff" opacity="0.32"/>
<rect x="180.93" y="406.60" width="18.00" height="5.50" fill="#131514"/>
<rect x="180.93" y="412.10" width="18.00" height="145.90" fill="#2a3212"/>
<rect x="180.93" y="443.40" width="18.00" height="114.60" fill="#a4df38"/>
<rect x="180.93" y="559.95" width="18.00" height="3.50" fill="#a4df38"/>
<rect x="180.93" y="560.90" width="18.00" height="0.90" fill="#fff" opacity="0.32"/>
<rect x="180.93" y="565.60" width="38.06" height="1.00" fill="#606066"/>
<rect x="200.99" y="406.60" width="18.00" height="5.50" fill="#131514"/>
<rect x="200.99" y="412.10" width="18.00" height="145.90" fill="#2e1012"/>
<rect x="200.99" y="443.40" width="18.00" height="114.60" fill="#f5303f"/>
<rect x="200.99" y="559.95" width="18.00" height="3.50" fill="#f5303f"/>
<rect x="200.99" y="560.90" width="18.00" height="0.90" fill="#fff" opacity="0.32"/>
<rect x="221.05" y="406.60" width="18.00" height="5.50" fill="#131514"/>
<rect x="221.05" y="412.10" width="18.00" height="145.90" fill="#2a3212"/>
<rect x="221.05" y="427.85" width="18.00" height="130.15" fill="#a4df38"/>
<rect x="221.05" y="559.95" width="18.00" height="3.50" fill="#a4df38"/>
<rect x="221.05" y="560.90" width="18.00" height="0.90" fill="#fff" opacity="0.32"/>
<rect x="221.05" y="565.60" width="38.06" height="1.00" fill="#606066"/>
<rect x="241.11" y="406.60" width="18.00" height="5.50" fill="#131514"/>
<rect x="241.11" y="412.10" width="18.00" height="145.90" fill="#2e1012"/>
<rect x="241.11" y="427.85" width="18.00" height="130.15" fill="#f5303f"/>
<rect x="241.11" y="559.95" width="18.00" height="3.50" fill="#f5303f"/>
<rect x="241.11" y="560.90" width="18.00" height="0.90" fill="#fff" opacity="0.32"/>
<rect x="261.17" y="406.60" width="18.00" height="5.50" fill="#131514"/>
<rect x="261.17" y="412.10" width="18.00" height="145.90" fill="#2a3212"/>
<rect x="261.17" y="429.60" width="18.00" height="128.40" fill="#a4df38"/>
<rect x="261.17" y="559.95" width="18.00" height="3.50" fill="#a4df38"/>
<rect x="261.17" y="560.90" width="18.00" height="0.90" fill="#fff" opacity="0.32"/>
<rect x="261.17" y="565.60" width="38.06" height="1.00" fill="#606066"/>
<rect x="281.23" y="406.60" width="18.00" height="5.50" fill="#131514"/>
<rect x="281.23" y="412.10" width="18.00" height="145.90" fill="#2e1012"/>
<rect x="281.23" y="429.60" width="18.00" height="128.40" fill="#f5303f"/>
<rect x="281.23" y="559.95" width="18.00" height="3.50" fill="#f5303f"/>
<rect x="281.23" y="560.90" width="18.00" height="0.90" fill="#fff" opacity="0.32"/>
<rect x="301.29" y="406.60" width="18.00" height="5.50" fill="#131514"/>
<rect x="301.29" y="412.10" width="18.00" height="145.90" fill="#2a3212"/>
<rect x="301.29" y="432.10" width="18.00" height="125.90" fill="#a4df38"/>
<rect x="301.29" y="559.95" width="18.00" height="3.50" fill="#a4df38"/>
<rect x="301.29" y="560.90" width="18.00" height="0.90" fill="#fff" opacity="0.32"/>
<rect x="301.29" y="565.60" width="38.06" height="1.00" fill="#606066"/>
<rect x="321.35" y="406.60" width="18.00" height="5.50" fill="#131514"/>
<rect x="321.35" y="412.10" width="18.00" height="145.90" fill="#2e1012"/>
<rect x="321.35" y="432.10" width="18.00" height="125.90" fill="#f5303f"/>
<rect x="321.35" y="559.95" width="18.00" height="3.50" fill="#f5303f"/>
<rect x="321.35" y="560.90" width="18.00" height="0.90" fill="#fff" opacity="0.32"/>
<rect x="20.45" y="411.90" width="318.90" height="1.60" fill="#8a2418" opacity="0.36"/>
<rect x="342.55" y="401.90" width="318.90" height="1.40" fill="#7a7a7a"/>
<rect x="360.35" y="412.10" width="2.46" height="26.75" fill="#091319"/>
<rect x="380.41" y="412.10" width="2.46" height="25.50" fill="#180c0a"/>
<rect x="400.47" y="412.10" width="2.46" height="25.50" fill="#091319"/>
<rect x="420.53" y="412.10" width="2.46" height="18.25" fill="#180c0a"/>
<rect x="440.59" y="412.10" width="2.46" height="14.50" fill="#091319"/>
<rect x="460.65" y="412.10" width="2.46" height="14.50" fill="#180c0a"/>
<rect x="480.71" y="412.10" width="2.46" height="27.25" fill="#091319"/>
<rect x="500.77" y="412.10" width="2.46" height="15.75" fill="#180c0a"/>
<rect x="520.83" y="412.10" width="2.46" height="15.75" fill="#091319"/>
<rect x="540.89" y="412.10" width="2.46" height="21.50" fill="#180c0a"/>
<rect x="560.95" y="412.10" width="2.46" height="21.50" fill="#091319"/>
<rect x="581.01" y="412.10" width="2.46" height="20.50" fill="#180c0a"/>
<rect x="601.07" y="412.10" width="2.46" height="20.50" fill="#091319"/>
<rect x="621.13" y="412.10" width="2.46" height="21.75" fill="#180c0a"/>
<rect x="641.19" y="412.10" width="2.46" height="22.75" fill="#091319"/>
<rect x="342.55" y="406.60" width="18.00" height="5.50" fill="#131514"/>
<rect x="342.55" y="412.10" width="18.00" height="145.90" fill="#10222e"/>
<rect x="342.55" y="438.85" width="18.00" height="119.15" fill="#42a8ff"/>
<rect x="342.55" y="559.95" width="18.00" height="3.50" fill="#42a8ff"/>
<rect x="342.55" y="560.90" width="18.00" height="0.90" fill="#fff" opacity="0.32"/>
<rect x="342.55" y="565.60" width="38.06" height="1.00" fill="#606066"/>
<rect x="362.61" y="406.60" width="18.00" height="5.50" fill="#131514"/>
<rect x="362.61" y="412.10" width="18.00" height="145.90" fill="#2c1712"/>
<rect x="362.61" y="465.35" width="18.00" height="92.65" fill="url(#gFx1_2)"/>
<rect x="362.61" y="559.95" width="18.00" height="3.50" fill="#4aae50"/>
<rect x="362.61" y="560.90" width="18.00" height="0.90" fill="#fff" opacity="0.32"/>
<rect x="382.67" y="406.60" width="18.00" height="5.50" fill="#131514"/>
<rect x="382.67" y="412.10" width="18.00" height="145.90" fill="#10222e"/>
<rect x="382.67" y="437.60" width="18.00" height="120.40" fill="#42a8ff"/>
<rect x="382.67" y="559.95" width="18.00" height="3.50" fill="#42a8ff"/>
<rect x="382.67" y="560.90" width="18.00" height="0.90" fill="#fff" opacity="0.32"/>
<rect x="382.67" y="565.60" width="38.06" height="1.00" fill="#606066"/>
<rect x="402.73" y="406.60" width="18.00" height="5.50" fill="#131514"/>
<rect x="402.73" y="412.10" width="18.00" height="145.90" fill="#2c1712"/>
<rect x="402.73" y="447.60" width="18.00" height="110.40" fill="url(#gFx1_2)"/>
<rect x="402.73" y="559.95" width="18.00" height="3.50" fill="#4aae50"/>
<rect x="402.73" y="560.90" width="18.00" height="0.90" fill="#fff" opacity="0.32"/>
<rect x="422.79" y="406.60" width="18.00" height="5.50" fill="#131514"/>
<rect x="422.79" y="412.10" width="18.00" height="145.90" fill="#10222e"/>
<rect x="422.79" y="430.35" width="18.00" height="127.65" fill="#42a8ff"/>
<rect x="422.79" y="559.95" width="18.00" height="3.50" fill="#42a8ff"/>
<rect x="422.79" y="560.90" width="18.00" height="0.90" fill="#fff" opacity="0.32"/>
<rect x="422.79" y="565.60" width="38.06" height="1.00" fill="#606066"/>
<rect x="442.85" y="406.60" width="18.00" height="5.50" fill="#131514"/>
<rect x="442.85" y="412.10" width="18.00" height="145.90" fill="#2c1712"/>
<rect x="442.85" y="426.60" width="18.00" height="131.40" fill="url(#gFx1_2)"/>
<rect x="442.85" y="559.95" width="18.00" height="3.50" fill="#4aae50"/>
<rect x="442.85" y="560.90" width="18.00" height="0.90" fill="#fff" opacity="0.32"/>
<rect x="462.91" y="406.60" width="18.00" height="5.50" fill="#131514"/>
<rect x="462.91" y="412.10" width="18.00" height="145.90" fill="#10222e"/>
<rect x="462.91" y="445.60" width="18.00" height="112.40" fill="#42a8ff"/>
<rect x="462.91" y="559.95" width="18.00" height="3.50" fill="#42a8ff"/>
<rect x="462.91" y="560.90" width="18.00" height="0.90" fill="#fff" opacity="0.32"/>
<rect x="462.91" y="565.60" width="38.06" height="1.00" fill="#606066"/>
<rect x="482.97" y="406.60" width="18.00" height="5.50" fill="#131514"/>
<rect x="482.97" y="412.10" width="18.00" height="145.90" fill="#2c1712"/>
<rect x="482.97" y="439.35" width="18.00" height="118.65" fill="url(#gFx1_2)"/>
<rect x="482.97" y="559.95" width="18.00" height="3.50" fill="#4aae50"/>
<rect x="482.97" y="560.90" width="18.00" height="0.90" fill="#fff" opacity="0.32"/>
<rect x="503.03" y="406.60" width="18.00" height="5.50" fill="#131514"/>
<rect x="503.03" y="412.10" width="18.00" height="145.90" fill="#10222e"/>
<rect x="503.03" y="427.85" width="18.00" height="130.15" fill="#42a8ff"/>
<rect x="503.03" y="559.95" width="18.00" height="3.50" fill="#42a8ff"/>
<rect x="503.03" y="560.90" width="18.00" height="0.90" fill="#fff" opacity="0.32"/>
<rect x="503.03" y="565.60" width="38.06" height="1.00" fill="#606066"/>
<rect x="523.09" y="406.60" width="18.00" height="5.50" fill="#131514"/>
<rect x="523.09" y="412.10" width="18.00" height="145.90" fill="#2c1712"/>
<rect x="523.09" y="437.10" width="18.00" height="120.90" fill="url(#gFx1_2)"/>
<rect x="523.09" y="559.95" width="18.00" height="3.50" fill="#4aae50"/>
<rect x="523.09" y="560.90" width="18.00" height="0.90" fill="#fff" opacity="0.32"/>
<rect x="543.15" y="406.60" width="18.00" height="5.50" fill="#131514"/>
<rect x="543.15" y="412.10" width="18.00" height="145.90" fill="#10222e"/>
<rect x="543.15" y="433.60" width="18.00" height="124.40" fill="#42a8ff"/>
<rect x="543.15" y="559.95" width="18.00" height="3.50" fill="#42a8ff"/>
<rect x="543.15" y="560.90" width="18.00" height="0.90" fill="#fff" opacity="0.32"/>
<rect x="543.15" y="565.60" width="38.06" height="1.00" fill="#606066"/>
<rect x="563.21" y="406.60" width="18.00" height="5.50" fill="#131514"/>
<rect x="563.21" y="412.10" width="18.00" height="145.90" fill="#2c1712"/>
<rect x="563.21" y="433.85" width="18.00" height="124.15" fill="url(#gFx1_2)"/>
<rect x="563.21" y="559.95" width="18.00" height="3.50" fill="#4aae50"/>
<rect x="563.21" y="560.90" width="18.00" height="0.90" fill="#fff" opacity="0.32"/>
<rect x="583.27" y="406.60" width="18.00" height="5.50" fill="#131514"/>
<rect x="583.27" y="412.10" width="18.00" height="145.90" fill="#10222e"/>
<rect x="583.27" y="432.60" width="18.00" height="125.40" fill="#42a8ff"/>
<rect x="583.27" y="559.95" width="18.00" height="3.50" fill="#42a8ff"/>
<rect x="583.27" y="560.90" width="18.00" height="0.90" fill="#fff" opacity="0.32"/>
<rect x="583.27" y="565.60" width="38.06" height="1.00" fill="#606066"/>
<rect x="603.33" y="406.60" width="18.00" height="5.50" fill="#131514"/>
<rect x="603.33" y="412.10" width="18.00" height="145.90" fill="#2c1712"/>
<rect x="603.33" y="433.85" width="18.00" height="124.15" fill="url(#gFx1_2)"/>
<rect x="603.33" y="559.95" width="18.00" height="3.50" fill="#4aae50"/>
<rect x="603.33" y="560.90" width="18.00" height="0.90" fill="#fff" opacity="0.32"/>
<rect x="623.39" y="406.60" width="18.00" height="5.50" fill="#131514"/>
<rect x="623.39" y="412.10" width="18.00" height="145.90" fill="#10222e"/>
<rect x="623.39" y="437.85" width="18.00" height="120.15" fill="#42a8ff"/>
<rect x="623.39" y="559.95" width="18.00" height="3.50" fill="#42a8ff"/>
<rect x="623.39" y="560.90" width="18.00" height="0.90" fill="#fff" opacity="0.32"/>
<rect x="623.39" y="565.60" width="38.06" height="1.00" fill="#606066"/>
<rect x="643.45" y="406.60" width="18.00" height="5.50" fill="#131514"/>
<rect x="643.45" y="412.10" width="18.00" height="145.90" fill="#2c1712"/>
<rect x="643.45" y="434.85" width="18.00" height="123.15" fill="url(#gFx1_2)"/>
<rect x="643.45" y="559.95" width="18.00" height="3.50" fill="#4aae50"/>
<rect x="643.45" y="560.90" width="18.00" height="0.90" fill="#fff" opacity="0.32"/>
<rect x="342.55" y="411.90" width="318.90" height="1.60" fill="#8a2418" opacity="0.36"/>
<rect x="664.75" y="401.90" width="318.90" height="1.40" fill="#7a7a7a"/>
<rect x="682.55" y="412.10" width="2.46" height="18.75" fill="#0b101a"/>
<rect x="702.61" y="412.10" width="2.46" height="18.75" fill="#0a1a0e"/>
<rect x="722.67" y="412.10" width="2.46" height="30.50" fill="#0b101a"/>
<rect x="742.73" y="412.10" width="2.46" height="22.75" fill="#0a1a0e"/>
<rect x="762.79" y="412.10" width="2.46" height="22.75" fill="#0b101a"/>
<rect x="782.85" y="412.10" width="2.46" height="22.75" fill="#0a1a0e"/>
<rect x="802.91" y="412.10" width="2.46" height="30.50" fill="#0b101a"/>
<rect x="822.97" y="412.10" width="2.46" height="20.00" fill="#0a1a0e"/>
<rect x="843.03" y="412.10" width="2.46" height="20.00" fill="#0b101a"/>
<rect x="863.09" y="412.10" width="2.46" height="20.00" fill="#0a1a0e"/>
<rect x="883.15" y="412.10" width="2.46" height="22.50" fill="#0b101a"/>
<rect x="903.21" y="412.10" width="2.46" height="22.50" fill="#0a1a0e"/>
<rect x="923.27" y="412.10" width="2.46" height="48.00" fill="#0b101a"/>
<rect x="943.33" y="412.10" width="2.46" height="44.50" fill="#0a1a0e"/>
<rect x="963.39" y="412.10" width="2.46" height="44.50" fill="#0b101a"/>
<rect x="664.75" y="406.60" width="18.00" height="5.50" fill="#131514"/>
<rect x="664.75" y="412.10" width="18.00" height="145.90" fill="#151e30"/>
<rect x="664.75" y="430.85" width="18.00" height="127.15" fill="#5590f8"/>
<rect x="664.75" y="559.95" width="18.00" height="3.50" fill="#5590f8"/>
<rect x="664.75" y="560.90" width="18.00" height="0.90" fill="#fff" opacity="0.32"/>
<rect x="664.75" y="565.60" width="38.06" height="1.00" fill="#606066"/>
<rect x="684.81" y="406.60" width="18.00" height="5.50" fill="#131514"/>
<rect x="684.81" y="412.10" width="18.00" height="145.90" fill="#182e1b"/>
<rect x="684.81" y="430.85" width="18.00" height="127.15" fill="#48d95a"/>
<rect x="684.81" y="559.95" width="18.00" height="3.50" fill="#48d95a"/>
<rect x="684.81" y="560.90" width="18.00" height="0.90" fill="#fff" opacity="0.32"/>
<rect x="704.87" y="406.60" width="18.00" height="5.50" fill="#131514"/>
<rect x="704.87" y="412.10" width="18.00" height="145.90" fill="#151e30"/>
<rect x="704.87" y="442.60" width="18.00" height="115.40" fill="#5590f8"/>
<rect x="704.87" y="559.95" width="18.00" height="3.50" fill="#5590f8"/>
<rect x="704.87" y="560.90" width="18.00" height="0.90" fill="#fff" opacity="0.32"/>
<rect x="704.87" y="565.60" width="38.06" height="1.00" fill="#606066"/>
<rect x="724.93" y="406.60" width="18.00" height="5.50" fill="#131514"/>
<rect x="724.93" y="412.10" width="18.00" height="145.90" fill="#182e1b"/>
<rect x="724.93" y="442.60" width="18.00" height="115.40" fill="#48d95a"/>
<rect x="724.93" y="559.95" width="18.00" height="3.50" fill="#48d95a"/>
<rect x="724.93" y="560.90" width="18.00" height="0.90" fill="#fff" opacity="0.32"/>
<rect x="744.99" y="406.60" width="18.00" height="5.50" fill="#131514"/>
<rect x="744.99" y="412.10" width="18.00" height="145.90" fill="#151e30"/>
<rect x="744.99" y="434.85" width="18.00" height="123.15" fill="#5590f8"/>
<rect x="744.99" y="559.95" width="18.00" height="3.50" fill="#5590f8"/>
<rect x="744.99" y="560.90" width="18.00" height="0.90" fill="#fff" opacity="0.32"/>
<rect x="744.99" y="565.60" width="38.06" height="1.00" fill="#606066"/>
<rect x="765.05" y="406.60" width="18.00" height="5.50" fill="#131514"/>
<rect x="765.05" y="412.10" width="18.00" height="145.90" fill="#182e1b"/>
<rect x="765.05" y="434.85" width="18.00" height="123.15" fill="#48d95a"/>
<rect x="765.05" y="559.95" width="18.00" height="3.50" fill="#48d95a"/>
<rect x="765.05" y="560.90" width="18.00" height="0.90" fill="#fff" opacity="0.32"/>
<rect x="785.11" y="406.60" width="18.00" height="5.50" fill="#131514"/>
<rect x="785.11" y="412.10" width="18.00" height="145.90" fill="#151e30"/>
<rect x="785.11" y="442.60" width="18.00" height="115.40" fill="#5590f8"/>
<rect x="785.11" y="559.95" width="18.00" height="3.50" fill="#5590f8"/>
<rect x="785.11" y="560.90" width="18.00" height="0.90" fill="#fff" opacity="0.32"/>
<rect x="785.11" y="565.60" width="38.06" height="1.00" fill="#606066"/>
<rect x="805.17" y="406.60" width="18.00" height="5.50" fill="#131514"/>
<rect x="805.17" y="412.10" width="18.00" height="145.90" fill="#182e1b"/>
<rect x="805.17" y="442.60" width="18.00" height="115.40" fill="#48d95a"/>
<rect x="805.17" y="559.95" width="18.00" height="3.50" fill="#48d95a"/>
<rect x="805.17" y="560.90" width="18.00" height="0.90" fill="#fff" opacity="0.32"/>
<rect x="825.23" y="406.60" width="18.00" height="5.50" fill="#131514"/>
<rect x="825.23" y="412.10" width="18.00" height="145.90" fill="#151e30"/>
<rect x="825.23" y="432.10" width="18.00" height="125.90" fill="#5590f8"/>
<rect x="825.23" y="559.95" width="18.00" height="3.50" fill="#5590f8"/>
<rect x="825.23" y="560.90" width="18.00" height="0.90" fill="#fff" opacity="0.32"/>
<rect x="825.23" y="565.60" width="38.06" height="1.00" fill="#606066"/>
<rect x="845.29" y="406.60" width="18.00" height="5.50" fill="#131514"/>
<rect x="845.29" y="412.10" width="18.00" height="145.90" fill="#182e1b"/>
<rect x="845.29" y="432.10" width="18.00" height="125.90" fill="#48d95a"/>
<rect x="845.29" y="559.95" width="18.00" height="3.50" fill="#48d95a"/>
<rect x="845.29" y="560.90" width="18.00" height="0.90" fill="#fff" opacity="0.32"/>
<rect x="865.35" y="406.60" width="18.00" height="5.50" fill="#131514"/>
<rect x="865.35" y="412.10" width="18.00" height="145.90" fill="#151e30"/>
<rect x="865.35" y="434.60" width="18.00" height="123.40" fill="#5590f8"/>
<rect x="865.35" y="559.95" width="18.00" height="3.50" fill="#5590f8"/>
<rect x="865.35" y="560.90" width="18.00" height="0.90" fill="#fff" opacity="0.32"/>
<rect x="865.35" y="565.60" width="38.06" height="1.00" fill="#606066"/>
<rect x="885.41" y="406.60" width="18.00" height="5.50" fill="#131514"/>
<rect x="885.41" y="412.10" width="18.00" height="145.90" fill="#182e1b"/>
<rect x="885.41" y="434.60" width="18.00" height="123.40" fill="#48d95a"/>
<rect x="885.41" y="559.95" width="18.00" height="3.50" fill="#48d95a"/>
<rect x="885.41" y="560.90" width="18.00" height="0.90" fill="#fff" opacity="0.32"/>
<rect x="905.47" y="406.60" width="18.00" height="5.50" fill="#131514"/>
<rect x="905.47" y="412.10" width="18.00" height="145.90" fill="#151e30"/>
<rect x="905.47" y="460.10" width="18.00" height="97.90" fill="#5590f8"/>
<rect x="905.47" y="559.95" width="18.00" height="3.50" fill="#5590f8"/>
<rect x="905.47" y="560.90" width="18.00" height="0.90" fill="#fff" opacity="0.32"/>
<rect x="905.47" y="565.60" width="38.06" height="1.00" fill="#606066"/>
<rect x="925.53" y="406.60" width="18.00" height="5.50" fill="#131514"/>
<rect x="925.53" y="412.10" width="18.00" height="145.90" fill="#182e1b"/>
<rect x="925.53" y="460.10" width="18.00" height="97.90" fill="#48d95a"/>
<rect x="925.53" y="559.95" width="18.00" height="3.50" fill="#48d95a"/>
<rect x="925.53" y="560.90" width="18.00" height="0.90" fill="#fff" opacity="0.32"/>
<rect x="945.59" y="406.60" width="18.00" height="5.50" fill="#131514"/>
<rect x="945.59" y="412.10" width="18.00" height="145.90" fill="#151e30"/>
<rect x="945.59" y="456.60" width="18.00" height="101.40" fill="#5590f8"/>
<rect x="945.59" y="559.95" width="18.00" height="3.50" fill="#5590f8"/>
<rect x="945.59" y="560.90" width="18.00" height="0.90" fill="#fff" opacity="0.32"/>
<rect x="945.59" y="565.60" width="38.06" height="1.00" fill="#606066"/>
<rect x="965.65" y="406.60" width="18.00" height="5.50" fill="#131514"/>
<rect x="965.65" y="412.10" width="18.00" height="145.90" fill="#182e1b"/>
<rect x="965.65" y="456.60" width="18.00" height="101.40" fill="#48d95a"/>
<rect x="965.65" y="559.95" width="18.00" height="3.50" fill="#48d95a"/>
<rect x="965.65" y="560.90" width="18.00" height="0.90" fill="#fff" opacity="0.32"/>
<rect x="664.75" y="411.90" width="318.90" height="1.60" fill="#8a2418" opacity="0.36"/>
<text x="101.13" y="30.60" class="t" text-anchor="middle">FX1</text>
<text x="29.62" y="202.00" class="c" text-anchor="middle">L</text>
<text x="50.05" y="202.00" class="c" text-anchor="middle">C</text>
<text x="70.48" y="202.00" class="c" text-anchor="middle">R</text>
<text x="90.92" y="202.00" class="c" text-anchor="middle">Lss</text>
<text x="111.34" y="202.00" class="c" text-anchor="middle">Rss</text>
<text x="131.78" y="202.00" class="c" text-anchor="middle">Lsr</text>
<text x="152.21" y="202.00" class="c" text-anchor="middle">Rsr</text>
<text x="172.63" y="202.00" class="c" text-anchor="middle">LFE</text>
<text x="265.08" y="30.60" class="t" text-anchor="middle">Background</text>
<text x="193.58" y="202.00" class="c" text-anchor="middle">L</text>
<text x="214.01" y="202.00" class="c" text-anchor="middle">C</text>
<text x="234.44" y="202.00" class="c" text-anchor="middle">R</text>
<text x="254.87" y="202.00" class="c" text-anchor="middle">Lss</text>
<text x="275.29" y="202.00" class="c" text-anchor="middle">Rss</text>
<text x="295.73" y="202.00" class="c" text-anchor="middle">Lsr</text>
<text x="316.15" y="202.00" class="c" text-anchor="middle">Rsr</text>
<text x="336.58" y="202.00" class="c" text-anchor="middle">LFE</text>
<text x="429.53" y="30.60" class="t" text-anchor="middle">7.1 FX</text>
<text x="358.02" y="202.00" class="c" text-anchor="middle">L</text>
<text x="378.45" y="202.00" class="c" text-anchor="middle">C</text>
<text x="398.88" y="202.00" class="c" text-anchor="middle">R</text>
<text x="419.31" y="202.00" class="c" text-anchor="middle">Lss</text>
<text x="439.75" y="202.00" class="c" text-anchor="middle">Rss</text>
<text x="460.17" y="202.00" class="c" text-anchor="middle">Lsr</text>
<text x="480.60" y="202.00" class="c" text-anchor="middle">Rsr</text>
<text x="501.03" y="202.00" class="c" text-anchor="middle">LFE</text>
<text x="594.08" y="30.60" class="t" text-anchor="middle">7.1 DX</text>
<text x="522.57" y="202.00" class="c" text-anchor="middle">L</text>
<text x="543.00" y="202.00" class="c" text-anchor="middle">C</text>
<text x="563.43" y="202.00" class="c" text-anchor="middle">R</text>
<text x="583.86" y="202.00" class="c" text-anchor="middle">Lss</text>
<text x="604.29" y="202.00" class="c" text-anchor="middle">Rss</text>
<text x="624.72" y="202.00" class="c" text-anchor="middle">Lsr</text>
<text x="645.15" y="202.00" class="c" text-anchor="middle">Rsr</text>
<text x="665.58" y="202.00" class="c" text-anchor="middle">LFE</text>
<text x="758.13" y="30.60" class="t" text-anchor="middle">7.1 Music</text>
<text x="686.62" y="202.00" class="c" text-anchor="middle">L</text>
<text x="707.05" y="202.00" class="c" text-anchor="middle">C</text>
<text x="727.49" y="202.00" class="c" text-anchor="middle">R</text>
<text x="747.91" y="202.00" class="c" text-anchor="middle">Lss</text>
<text x="768.35" y="202.00" class="c" text-anchor="middle">Rss</text>
<text x="788.77" y="202.00" class="c" text-anchor="middle">Lsr</text>
<text x="809.21" y="202.00" class="c" text-anchor="middle">Rsr</text>
<text x="829.63" y="202.00" class="c" text-anchor="middle">LFE</text>
<text x="922.73" y="30.60" class="t" text-anchor="middle">7.1 Score</text>
<text x="851.23" y="202.00" class="c" text-anchor="middle">L</text>
<text x="871.65" y="202.00" class="c" text-anchor="middle">C</text>
<text x="892.09" y="202.00" class="c" text-anchor="middle">R</text>
<text x="912.51" y="202.00" class="c" text-anchor="middle">Lss</text>
<text x="932.95" y="202.00" class="c" text-anchor="middle">Rss</text>
<text x="953.38" y="202.00" class="c" text-anchor="middle">Lsr</text>
<text x="973.81" y="202.00" class="c" text-anchor="middle">Rsr</text>
<text x="994.24" y="202.00" class="c" text-anchor="middle">LFE</text>
<text x="101.13" y="215.60" class="t" text-anchor="middle">Rec FX1</text>
<text x="29.62" y="387.00" class="c" text-anchor="middle">L</text>
<text x="50.05" y="387.00" class="c" text-anchor="middle">C</text>
<text x="70.48" y="387.00" class="c" text-anchor="middle">R</text>
<text x="90.92" y="387.00" class="c" text-anchor="middle">Lss</text>
<text x="111.34" y="387.00" class="c" text-anchor="middle">Rss</text>
<text x="131.78" y="387.00" class="c" text-anchor="middle">Lsr</text>
<text x="152.21" y="387.00" class="c" text-anchor="middle">Rsr</text>
<text x="172.63" y="387.00" class="c" text-anchor="middle">LFE</text>
<text x="265.08" y="215.60" class="t" text-anchor="middle">Rec Background</text>
<text x="193.58" y="387.00" class="c" text-anchor="middle">L</text>
<text x="214.01" y="387.00" class="c" text-anchor="middle">C</text>
<text x="234.44" y="387.00" class="c" text-anchor="middle">R</text>
<text x="254.87" y="387.00" class="c" text-anchor="middle">Lss</text>
<text x="275.29" y="387.00" class="c" text-anchor="middle">Rss</text>
<text x="295.73" y="387.00" class="c" text-anchor="middle">Lsr</text>
<text x="316.15" y="387.00" class="c" text-anchor="middle">Rsr</text>
<text x="336.58" y="387.00" class="c" text-anchor="middle">LFE</text>
<text x="429.53" y="215.60" class="t" text-anchor="middle">Rec 7.1 FX</text>
<text x="358.02" y="387.00" class="c" text-anchor="middle">L</text>
<text x="378.45" y="387.00" class="c" text-anchor="middle">C</text>
<text x="398.88" y="387.00" class="c" text-anchor="middle">R</text>
<text x="419.31" y="387.00" class="c" text-anchor="middle">Lss</text>
<text x="439.75" y="387.00" class="c" text-anchor="middle">Rss</text>
<text x="460.17" y="387.00" class="c" text-anchor="middle">Lsr</text>
<text x="480.60" y="387.00" class="c" text-anchor="middle">Rsr</text>
<text x="501.03" y="387.00" class="c" text-anchor="middle">LFE</text>
<text x="594.08" y="215.60" class="t" text-anchor="middle">Rec 7.1 DX</text>
<text x="522.57" y="387.00" class="c" text-anchor="middle">L</text>
<text x="543.00" y="387.00" class="c" text-anchor="middle">C</text>
<text x="563.43" y="387.00" class="c" text-anchor="middle">R</text>
<text x="583.86" y="387.00" class="c" text-anchor="middle">Lss</text>
<text x="604.29" y="387.00" class="c" text-anchor="middle">Rss</text>
<text x="624.72" y="387.00" class="c" text-anchor="middle">Lsr</text>
<text x="645.15" y="387.00" class="c" text-anchor="middle">Rsr</text>
<text x="665.58" y="387.00" class="c" text-anchor="middle">LFE</text>
<text x="758.13" y="215.60" class="t" text-anchor="middle">Rec 7.1 Music</text>
<text x="686.62" y="387.00" class="c" text-anchor="middle">L</text>
<text x="707.05" y="387.00" class="c" text-anchor="middle">C</text>
<text x="727.49" y="387.00" class="c" text-anchor="middle">R</text>
<text x="747.91" y="387.00" class="c" text-anchor="middle">Lss</text>
<text x="768.35" y="387.00" class="c" text-anchor="middle">Rss</text>
<text x="788.77" y="387.00" class="c" text-anchor="middle">Lsr</text>
<text x="809.21" y="387.00" class="c" text-anchor="middle">Rsr</text>
<text x="829.63" y="387.00" class="c" text-anchor="middle">LFE</text>
<text x="922.73" y="215.60" class="t" text-anchor="middle">Rec 7.1 Score</text>
<text x="851.23" y="387.00" class="c" text-anchor="middle">L</text>
<text x="871.65" y="387.00" class="c" text-anchor="middle">C</text>
<text x="892.09" y="387.00" class="c" text-anchor="middle">R</text>
<text x="912.51" y="387.00" class="c" text-anchor="middle">Lss</text>
<text x="932.95" y="387.00" class="c" text-anchor="middle">Rss</text>
<text x="953.38" y="387.00" class="c" text-anchor="middle">Lsr</text>
<text x="973.81" y="387.00" class="c" text-anchor="middle">Rsr</text>
<text x="994.24" y="387.00" class="c" text-anchor="middle">LFE</text>
<text x="179.90" y="400.20" class="t" text-anchor="middle">DX</text>
<text x="39.48" y="571.60" class="c" text-anchor="middle">L</text>
<text x="79.60" y="571.60" class="c" text-anchor="middle">C</text>
<text x="119.72" y="571.60" class="c" text-anchor="middle">R</text>
<text x="159.84" y="571.60" class="c" text-anchor="middle">Lss</text>
<text x="199.96" y="571.60" class="c" text-anchor="middle">Rss</text>
<text x="240.08" y="571.60" class="c" text-anchor="middle">Lsr</text>
<text x="280.20" y="571.60" class="c" text-anchor="middle">Rsr</text>
<text x="320.32" y="571.60" class="c" text-anchor="middle">LFE</text>
<text x="502.00" y="400.20" class="t" text-anchor="middle">FX1</text>
<text x="361.58" y="571.60" class="c" text-anchor="middle">L</text>
<text x="401.70" y="571.60" class="c" text-anchor="middle">C</text>
<text x="441.82" y="571.60" class="c" text-anchor="middle">R</text>
<text x="481.94" y="571.60" class="c" text-anchor="middle">Lss</text>
<text x="522.06" y="571.60" class="c" text-anchor="middle">Rss</text>
<text x="562.18" y="571.60" class="c" text-anchor="middle">Lsr</text>
<text x="602.30" y="571.60" class="c" text-anchor="middle">Rsr</text>
<text x="642.42" y="571.60" class="c" text-anchor="middle">LFE</text>
<text x="824.20" y="400.20" class="t" text-anchor="middle">Music</text>
<text x="683.78" y="571.60" class="c" text-anchor="middle">L</text>
<text x="723.90" y="571.60" class="c" text-anchor="middle">C</text>
<text x="764.02" y="571.60" class="c" text-anchor="middle">R</text>
<text x="804.14" y="571.60" class="c" text-anchor="middle">Lss</text>
<text x="844.26" y="571.60" class="c" text-anchor="middle">Rss</text>
<text x="884.38" y="571.60" class="c" text-anchor="middle">Lsr</text>
<text x="924.50" y="571.60" class="c" text-anchor="middle">Rsr</text>
<text x="964.62" y="571.60" class="c" text-anchor="middle">LFE</text>
<text x="19.60" y="44.20" class="s" text-anchor="end">0</text>
<text x="1005.30" y="44.10" class="sr" text-anchor="start">0</text>
<text x="19.60" y="60.95" class="s" text-anchor="end">-5</text>
<text x="1005.30" y="60.85" class="sr" text-anchor="start">-5</text>
<text x="19.60" y="76.80" class="s" text-anchor="end">-10</text>
<text x="1005.30" y="76.70" class="sr" text-anchor="start">-10</text>
<text x="19.60" y="95.45" class="s" text-anchor="end">-15</text>
<text x="1005.30" y="95.35" class="sr" text-anchor="start">-15</text>
<text x="19.60" y="114.20" class="s" text-anchor="end">-20</text>
<text x="1005.30" y="114.10" class="sr" text-anchor="start">-20</text>
<text x="19.60" y="133.30" class="s" text-anchor="end">-25</text>
<text x="1005.30" y="133.20" class="sr" text-anchor="start">-25</text>
<text x="19.60" y="151.90" class="s" text-anchor="end">-30</text>
<text x="1005.30" y="151.80" class="sr" text-anchor="start">-30</text>
<text x="19.60" y="171.10" class="s" text-anchor="end">-35</text>
<text x="1005.30" y="171.00" class="sr" text-anchor="start">-35</text>
<text x="19.60" y="189.70" class="s" text-anchor="end">-40</text>
<text x="1005.30" y="189.60" class="sr" text-anchor="start">-40</text>
<text x="19.60" y="229.20" class="s" text-anchor="end">0</text>
<text x="1005.30" y="229.10" class="sr" text-anchor="start">0</text>
<text x="19.60" y="245.95" class="s" text-anchor="end">-5</text>
<text x="1005.30" y="245.85" class="sr" text-anchor="start">-5</text>
<text x="19.60" y="261.80" class="s" text-anchor="end">-10</text>
<text x="1005.30" y="261.70" class="sr" text-anchor="start">-10</text>
<text x="19.60" y="280.45" class="s" text-anchor="end">-15</text>
<text x="1005.30" y="280.35" class="sr" text-anchor="start">-15</text>
<text x="19.60" y="299.20" class="s" text-anchor="end">-20</text>
<text x="1005.30" y="299.10" class="sr" text-anchor="start">-20</text>
<text x="19.60" y="318.30" class="s" text-anchor="end">-25</text>
<text x="1005.30" y="318.20" class="sr" text-anchor="start">-25</text>
<text x="19.60" y="336.90" class="s" text-anchor="end">-30</text>
<text x="1005.30" y="336.80" class="sr" text-anchor="start">-30</text>
<text x="19.60" y="356.10" class="s" text-anchor="end">-35</text>
<text x="1005.30" y="356.00" class="sr" text-anchor="start">-35</text>
<text x="19.60" y="374.70" class="s" text-anchor="end">-40</text>
<text x="1005.30" y="374.60" class="sr" text-anchor="start">-40</text>
<text x="19.60" y="413.80" class="s" text-anchor="end">0</text>
<text x="986.30" y="413.70" class="sr" text-anchor="start">0</text>
<text x="19.60" y="430.55" class="s" text-anchor="end">-5</text>
<text x="986.30" y="430.45" class="sr" text-anchor="start">-5</text>
<text x="19.60" y="446.40" class="s" text-anchor="end">-10</text>
<text x="986.30" y="446.30" class="sr" text-anchor="start">-10</text>
<text x="19.60" y="465.05" class="s" text-anchor="end">-15</text>
<text x="986.30" y="464.95" class="sr" text-anchor="start">-15</text>
<text x="19.60" y="483.80" class="s" text-anchor="end">-20</text>
<text x="986.30" y="483.70" class="sr" text-anchor="start">-20</text>
<text x="19.60" y="502.90" class="s" text-anchor="end">-25</text>
<text x="986.30" y="502.80" class="sr" text-anchor="start">-25</text>
<text x="19.60" y="521.50" class="s" text-anchor="end">-30</text>
<text x="986.30" y="521.40" class="sr" text-anchor="start">-30</text>
<text x="19.60" y="540.70" class="s" text-anchor="end">-35</text>
<text x="986.30" y="540.60" class="sr" text-anchor="start">-35</text>
<text x="19.60" y="559.30" class="s" text-anchor="end">-40</text>
<text x="986.30" y="559.20" class="sr" text-anchor="start">-40</text>
<text x="21.50" y="6.60" class="mb" text-anchor="start">Massive Meter Bridge</text>
<text x="85.50" y="6.60" class="m" text-anchor="start">File</text>
<text x="102.00" y="6.60" class="m" text-anchor="start">Setup</text>
<text x="125.00" y="6.60" class="m" text-anchor="start">View</text>
<text x="145.00" y="6.60" class="m" text-anchor="start">Window</text>
<text x="965.30" y="6.60" class="m" text-anchor="start">Mon Dec 4</text>
<text x="994.70" y="6.60" class="m" text-anchor="start">10:51 AM</text>
<text x="453.00" y="17.40" class="tb" text-anchor="start">Massive Meter Bridge: Configuration - PostDemo</text>
<g transform="translate(7.0,0.8) scale(0.0068)" fill="#222"><path d="M788 530c-1-106 87-157 91-160-50-72-127-82-154-83-65-7-128 39-161 39-34 0-85-38-140-37-71 1-138 42-175 106-75 130-19 322 53 428 36 51 78 109 133 107 54-2 74-35 139-35 64 0 83 35 139 34 58-1 94-52 129-104 41-60 58-118 59-121-1 0-112-43-113-174zM682 218c29-36 49-85 44-135-42 2-94 28-124 64-27 31-51 82-45 130 47 4 96-24 125-59z"/></g>
<circle cx="5.45" cy="15.4" r="2.4" fill="#f0605a"/>
<circle cx="13.5" cy="15.4" r="2.4" fill="#f5b73a"/>
<circle cx="21.5" cy="15.4" r="2.4" fill="#48bf4c"/>
<rect x="445.6" y="12.7" width="5" height="5" rx="0.6" fill="#3a3434"/>
<g fill="#222" transform="translate(824.8,4.6)"><path d="M-3.1,-1.6 L-1.5,-2.7 L0,-1.6 L1.5,-2.7 L3.1,-1.6 L1.6,-0.5 L3.1,0.6 L1.5,1.7 L0,0.6 L-1.5,1.7 L-3.1,0.6 L-1.6,-0.5 Z"/><path d="M-1.5,2.1 L0,1.1 L1.5,2.1 L0,3.1 Z"/></g>
<g transform="translate(838.6,4.6)"><path d="M-3.2,-0.9 H-1.9 L-0.3,-2.3 V2.3 L-1.9,0.9 H-3.2 Z" fill="#555"/><path d="M0.8,-1.2 Q1.7,0 0.8,1.2" stroke="#777" stroke-width="0.6" fill="none"/><path d="M1.9,-2 Q3.3,0 1.9,2" stroke="#aaa" stroke-width="0.6" fill="none"/></g>
<path transform="translate(852.9,4.6)" d="M-1.2,-1.3 L1.2,1.2 L0,2.5 V-2.5 L1.2,-1.2 L-1.2,1.3" stroke="#666" stroke-width="0.6" fill="none"/>
<g transform="translate(867.6,4.6)"><rect x="-4.6" y="-2" width="8.4" height="4" rx="1.1" fill="none" stroke="#999" stroke-width="0.5"/><rect x="-4" y="-1.4" width="5.4" height="2.8" rx="0.6" fill="#333"/><rect x="4.1" y="-0.7" width="0.6" height="1.4" fill="#999"/></g>
<g transform="translate(885.3,4.6)"><circle r="2.8" fill="none" stroke="#2a2a2a" stroke-width="0.9"/><rect x="-0.5" y="-1.5" width="1" height="3" rx="0.4" fill="#2a2a2a"/></g>
<g transform="translate(901.9,6.5)" fill="none" stroke="#666" stroke-width="0.7"><path d="M-3.3,-2.9 Q0,-5.6 3.3,-2.9"/><path d="M-2.1,-1.7 Q0,-3.4 2.1,-1.7"/><circle r="0.5" cy="-0.5" fill="#666" stroke="none"/></g>
<g transform="translate(916.5,4.6)" fill="none" stroke="#8a8a8a" stroke-width="0.55"><circle r="2.5"/><path d="M0,-1.4 V0.2 L1,0.8"/></g>
<g transform="translate(930.2,4.6)" fill="none" stroke="#333" stroke-width="0.8"><circle cx="-0.6" cy="-0.6" r="1.8"/><path d="M0.8,0.8 L2.6,2.6"/></g>
<g transform="translate(941.3,4.6)"><rect x="-2.5" y="-2.3" width="5" height="3.6" rx="0.5" fill="#444"/><rect x="-2.7" y="1.6" width="5.4" height="0.8" fill="#555"/><rect x="0.2" y="-1.4" width="1.6" height="1.4" fill="#ccc"/></g>
<circle cx="947.2" cy="4.8999999999999995" r="0.5" fill="#f0a080"/>
<g transform="translate(956.1,4.6)"><circle r="2.1" fill="#e4eefa" stroke="#4a86e4" stroke-width="0.9"/><path d="M-2.1,0 A2.1,2.1 0 0 1 0,-2.1" stroke="#d060a8" stroke-width="0.9" fill="none"/><path d="M0,2.1 A2.1,2.1 0 0 0 2.1,0" stroke="#40b4e4" stroke-width="0.9" fill="none"/></g></svg>
</body></html>
